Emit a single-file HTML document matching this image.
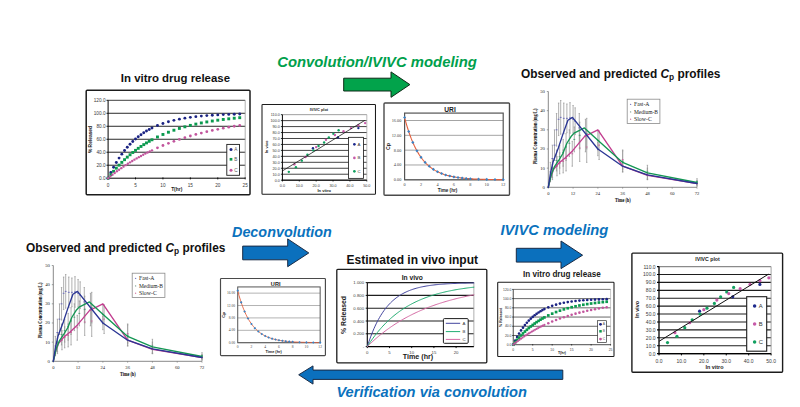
<!DOCTYPE html>
<html><head><meta charset="utf-8"><title>IVIVC workflow</title>
<style>html,body{margin:0;padding:0;background:#fff;}body{width:800px;height:407px;overflow:hidden;}svg{display:block;}</style></head><body>
<svg width="800" height="407" viewBox="0 0 800 407">
<rect width="800" height="407" fill="#fff"/>
<text x="120.85" y="82.25" font-size="11" fill="#111" font-family="'Liberation Sans', sans-serif" font-weight="bold" textLength="109.2" lengthAdjust="spacingAndGlyphs">In vitro drug release</text>
<rect x="86.2" y="90.3" width="163.8" height="104.5" fill="#fff" stroke="#1c1c1c" stroke-width="1.5" rx="1"/>
<line x1="108.1" y1="165.22" x2="245.2" y2="165.22" stroke="#1e1e1e" stroke-width="0.95"/>
<line x1="108.1" y1="152.23" x2="245.2" y2="152.23" stroke="#1e1e1e" stroke-width="0.95"/>
<line x1="108.1" y1="139.25" x2="245.2" y2="139.25" stroke="#1e1e1e" stroke-width="0.95"/>
<line x1="108.1" y1="126.27" x2="245.2" y2="126.27" stroke="#1e1e1e" stroke-width="0.95"/>
<line x1="108.1" y1="113.28" x2="245.2" y2="113.28" stroke="#1e1e1e" stroke-width="0.95"/>
<line x1="108.1" y1="100.3" x2="245.2" y2="100.3" stroke="#2a2a2a" stroke-width="0.9"/>
<line x1="245.2" y1="100.3" x2="245.2" y2="178.2" stroke="#9a9a9a" stroke-width="0.8"/>
<line x1="108.1" y1="100.3" x2="108.1" y2="178.7" stroke="#000" stroke-width="1"/>
<line x1="107.6" y1="178.2" x2="245.2" y2="178.2" stroke="#000" stroke-width="1"/>
<line x1="106.5" y1="178.2" x2="108.1" y2="178.2" stroke="#000" stroke-width="0.9"/>
<text x="105.5" y="179.9" font-size="4.7" fill="#3a3a3a" font-family="'Liberation Sans', sans-serif" text-anchor="end">0.0</text>
<line x1="106.5" y1="165.22" x2="108.1" y2="165.22" stroke="#000" stroke-width="0.9"/>
<text x="105.5" y="166.92" font-size="4.7" fill="#3a3a3a" font-family="'Liberation Sans', sans-serif" text-anchor="end">20.0</text>
<line x1="106.5" y1="152.23" x2="108.1" y2="152.23" stroke="#000" stroke-width="0.9"/>
<text x="105.5" y="153.93" font-size="4.7" fill="#3a3a3a" font-family="'Liberation Sans', sans-serif" text-anchor="end">40.0</text>
<line x1="106.5" y1="139.25" x2="108.1" y2="139.25" stroke="#000" stroke-width="0.9"/>
<text x="105.5" y="140.95" font-size="4.7" fill="#3a3a3a" font-family="'Liberation Sans', sans-serif" text-anchor="end">60.0</text>
<line x1="106.5" y1="126.27" x2="108.1" y2="126.27" stroke="#000" stroke-width="0.9"/>
<text x="105.5" y="127.97" font-size="4.7" fill="#3a3a3a" font-family="'Liberation Sans', sans-serif" text-anchor="end">80.0</text>
<line x1="106.5" y1="113.28" x2="108.1" y2="113.28" stroke="#000" stroke-width="0.9"/>
<text x="105.5" y="114.98" font-size="4.7" fill="#3a3a3a" font-family="'Liberation Sans', sans-serif" text-anchor="end">100.0</text>
<line x1="106.5" y1="100.3" x2="108.1" y2="100.3" stroke="#000" stroke-width="0.9"/>
<text x="105.5" y="102" font-size="4.7" fill="#3a3a3a" font-family="'Liberation Sans', sans-serif" text-anchor="end">120.0</text>
<line x1="108.1" y1="177.4" x2="108.1" y2="179.4" stroke="#000" stroke-width="0.9"/>
<text x="108.1" y="186.6" font-size="4.7" fill="#3a3a3a" font-family="'Liberation Sans', sans-serif" text-anchor="middle">0</text>
<line x1="135.52" y1="177.4" x2="135.52" y2="179.4" stroke="#000" stroke-width="0.9"/>
<text x="135.52" y="186.6" font-size="4.7" fill="#3a3a3a" font-family="'Liberation Sans', sans-serif" text-anchor="middle">5</text>
<line x1="162.94" y1="177.4" x2="162.94" y2="179.4" stroke="#000" stroke-width="0.9"/>
<text x="162.94" y="186.6" font-size="4.7" fill="#3a3a3a" font-family="'Liberation Sans', sans-serif" text-anchor="middle">10</text>
<line x1="190.36" y1="177.4" x2="190.36" y2="179.4" stroke="#000" stroke-width="0.9"/>
<text x="190.36" y="186.6" font-size="4.7" fill="#3a3a3a" font-family="'Liberation Sans', sans-serif" text-anchor="middle">15</text>
<line x1="217.78" y1="177.4" x2="217.78" y2="179.4" stroke="#000" stroke-width="0.9"/>
<text x="217.78" y="186.6" font-size="4.7" fill="#3a3a3a" font-family="'Liberation Sans', sans-serif" text-anchor="middle">20</text>
<line x1="245.2" y1="177.4" x2="245.2" y2="179.4" stroke="#000" stroke-width="0.9"/>
<text x="245.2" y="186.6" font-size="4.7" fill="#3a3a3a" font-family="'Liberation Sans', sans-serif" text-anchor="middle">25</text>
<text x="176.7" y="191.4" font-size="4.9" fill="#1a1a1a" font-family="'Liberation Sans', sans-serif" font-weight="bold" text-anchor="middle">T(hr)</text>
<text x="91.9" y="139.5" font-size="4.9" fill="#1a1a1a" font-family="'Liberation Sans', sans-serif" font-weight="bold" text-anchor="middle" transform="rotate(-90 91.9 139.5)">% Released</text>
<circle cx="108.1" cy="178.2" r="1.45" fill="#1b2383"/>
<circle cx="110.84" cy="172.46" r="1.45" fill="#1b2383"/>
<circle cx="113.58" cy="167.24" r="1.45" fill="#1b2383"/>
<circle cx="116.33" cy="162.47" r="1.45" fill="#1b2383"/>
<circle cx="119.07" cy="158.12" r="1.45" fill="#1b2383"/>
<circle cx="121.81" cy="154.16" r="1.45" fill="#1b2383"/>
<circle cx="124.55" cy="150.55" r="1.45" fill="#1b2383"/>
<circle cx="127.29" cy="147.26" r="1.45" fill="#1b2383"/>
<circle cx="130.04" cy="144.26" r="1.45" fill="#1b2383"/>
<circle cx="132.78" cy="141.52" r="1.45" fill="#1b2383"/>
<circle cx="135.52" cy="139.02" r="1.45" fill="#1b2383"/>
<circle cx="138.26" cy="136.75" r="1.45" fill="#1b2383"/>
<circle cx="141" cy="134.68" r="1.45" fill="#1b2383"/>
<circle cx="143.75" cy="132.79" r="1.45" fill="#1b2383"/>
<circle cx="146.49" cy="131.06" r="1.45" fill="#1b2383"/>
<circle cx="149.23" cy="129.49" r="1.45" fill="#1b2383"/>
<circle cx="151.97" cy="128.06" r="1.45" fill="#1b2383"/>
<circle cx="157.46" cy="125.56" r="1.45" fill="#1b2383"/>
<circle cx="162.94" cy="123.49" r="1.45" fill="#1b2383"/>
<circle cx="168.42" cy="121.77" r="1.45" fill="#1b2383"/>
<circle cx="173.91" cy="120.33" r="1.45" fill="#1b2383"/>
<circle cx="179.39" cy="119.14" r="1.45" fill="#1b2383"/>
<circle cx="184.88" cy="118.15" r="1.45" fill="#1b2383"/>
<circle cx="190.36" cy="117.33" r="1.45" fill="#1b2383"/>
<circle cx="195.84" cy="116.65" r="1.45" fill="#1b2383"/>
<circle cx="201.33" cy="116.08" r="1.45" fill="#1b2383"/>
<circle cx="206.81" cy="115.61" r="1.45" fill="#1b2383"/>
<circle cx="212.3" cy="115.21" r="1.45" fill="#1b2383"/>
<circle cx="217.78" cy="114.89" r="1.45" fill="#1b2383"/>
<circle cx="223.26" cy="114.62" r="1.45" fill="#1b2383"/>
<circle cx="228.75" cy="114.39" r="1.45" fill="#1b2383"/>
<circle cx="234.23" cy="114.2" r="1.45" fill="#1b2383"/>
<circle cx="239.72" cy="114.05" r="1.45" fill="#1b2383"/>
<rect x="106.65" y="176.75" width="2.9" height="2.9" fill="#0a9a4e"/>
<rect x="109.39" y="173.21" width="2.9" height="2.9" fill="#0a9a4e"/>
<rect x="112.13" y="169.87" width="2.9" height="2.9" fill="#0a9a4e"/>
<rect x="114.88" y="166.71" width="2.9" height="2.9" fill="#0a9a4e"/>
<rect x="117.62" y="163.72" width="2.9" height="2.9" fill="#0a9a4e"/>
<rect x="120.36" y="160.9" width="2.9" height="2.9" fill="#0a9a4e"/>
<rect x="123.1" y="158.22" width="2.9" height="2.9" fill="#0a9a4e"/>
<rect x="125.84" y="155.7" width="2.9" height="2.9" fill="#0a9a4e"/>
<rect x="128.59" y="153.31" width="2.9" height="2.9" fill="#0a9a4e"/>
<rect x="131.33" y="151.05" width="2.9" height="2.9" fill="#0a9a4e"/>
<rect x="134.07" y="148.91" width="2.9" height="2.9" fill="#0a9a4e"/>
<rect x="136.81" y="146.89" width="2.9" height="2.9" fill="#0a9a4e"/>
<rect x="139.55" y="144.99" width="2.9" height="2.9" fill="#0a9a4e"/>
<rect x="142.3" y="143.18" width="2.9" height="2.9" fill="#0a9a4e"/>
<rect x="145.04" y="141.47" width="2.9" height="2.9" fill="#0a9a4e"/>
<rect x="147.78" y="139.86" width="2.9" height="2.9" fill="#0a9a4e"/>
<rect x="150.52" y="138.33" width="2.9" height="2.9" fill="#0a9a4e"/>
<rect x="156.01" y="135.52" width="2.9" height="2.9" fill="#0a9a4e"/>
<rect x="161.49" y="133.01" width="2.9" height="2.9" fill="#0a9a4e"/>
<rect x="166.97" y="130.77" width="2.9" height="2.9" fill="#0a9a4e"/>
<rect x="172.46" y="128.76" width="2.9" height="2.9" fill="#0a9a4e"/>
<rect x="177.94" y="126.97" width="2.9" height="2.9" fill="#0a9a4e"/>
<rect x="183.43" y="125.37" width="2.9" height="2.9" fill="#0a9a4e"/>
<rect x="188.91" y="123.93" width="2.9" height="2.9" fill="#0a9a4e"/>
<rect x="194.39" y="122.65" width="2.9" height="2.9" fill="#0a9a4e"/>
<rect x="199.88" y="121.5" width="2.9" height="2.9" fill="#0a9a4e"/>
<rect x="205.36" y="120.48" width="2.9" height="2.9" fill="#0a9a4e"/>
<rect x="210.85" y="119.56" width="2.9" height="2.9" fill="#0a9a4e"/>
<rect x="216.33" y="118.74" width="2.9" height="2.9" fill="#0a9a4e"/>
<rect x="221.81" y="118.01" width="2.9" height="2.9" fill="#0a9a4e"/>
<rect x="227.3" y="117.36" width="2.9" height="2.9" fill="#0a9a4e"/>
<rect x="232.78" y="116.77" width="2.9" height="2.9" fill="#0a9a4e"/>
<rect x="238.27" y="116.25" width="2.9" height="2.9" fill="#0a9a4e"/>
<circle cx="108.1" cy="178.2" r="1.2" fill="#c2559d"/>
<circle cx="110.29" cy="176.41" r="1.2" fill="#c2559d"/>
<circle cx="112.49" cy="174.66" r="1.2" fill="#c2559d"/>
<circle cx="114.68" cy="172.97" r="1.2" fill="#c2559d"/>
<circle cx="116.87" cy="171.32" r="1.2" fill="#c2559d"/>
<circle cx="119.07" cy="169.72" r="1.2" fill="#c2559d"/>
<circle cx="121.26" cy="168.16" r="1.2" fill="#c2559d"/>
<circle cx="123.46" cy="166.65" r="1.2" fill="#c2559d"/>
<circle cx="125.65" cy="165.17" r="1.2" fill="#c2559d"/>
<circle cx="127.84" cy="163.74" r="1.2" fill="#c2559d"/>
<circle cx="130.04" cy="162.35" r="1.2" fill="#c2559d"/>
<circle cx="132.23" cy="160.99" r="1.2" fill="#c2559d"/>
<circle cx="134.42" cy="159.67" r="1.2" fill="#c2559d"/>
<circle cx="136.62" cy="158.39" r="1.2" fill="#c2559d"/>
<circle cx="138.81" cy="157.15" r="1.2" fill="#c2559d"/>
<circle cx="141" cy="155.94" r="1.2" fill="#c2559d"/>
<circle cx="143.2" cy="154.76" r="1.2" fill="#c2559d"/>
<circle cx="145.39" cy="153.61" r="1.2" fill="#c2559d"/>
<circle cx="147.58" cy="152.5" r="1.2" fill="#c2559d"/>
<circle cx="149.78" cy="151.42" r="1.2" fill="#c2559d"/>
<circle cx="151.97" cy="150.36" r="1.2" fill="#c2559d"/>
<circle cx="157.46" cy="147.86" r="1.4" fill="#c2559d"/>
<circle cx="162.94" cy="145.52" r="1.4" fill="#c2559d"/>
<circle cx="168.42" cy="143.34" r="1.4" fill="#c2559d"/>
<circle cx="173.91" cy="141.31" r="1.4" fill="#c2559d"/>
<circle cx="179.39" cy="139.41" r="1.4" fill="#c2559d"/>
<circle cx="184.88" cy="137.65" r="1.4" fill="#c2559d"/>
<circle cx="190.36" cy="136" r="1.4" fill="#c2559d"/>
<circle cx="195.84" cy="134.46" r="1.4" fill="#c2559d"/>
<circle cx="201.33" cy="133.03" r="1.4" fill="#c2559d"/>
<circle cx="206.81" cy="131.7" r="1.4" fill="#c2559d"/>
<circle cx="212.3" cy="130.45" r="1.4" fill="#c2559d"/>
<circle cx="217.78" cy="129.29" r="1.4" fill="#c2559d"/>
<circle cx="223.26" cy="128.21" r="1.4" fill="#c2559d"/>
<circle cx="228.75" cy="127.2" r="1.4" fill="#c2559d"/>
<circle cx="234.23" cy="126.26" r="1.4" fill="#c2559d"/>
<circle cx="239.72" cy="125.38" r="1.4" fill="#c2559d"/>
<rect x="226.8" y="144.4" width="12.7" height="30.9" fill="#fff" stroke="#1c1c1c" stroke-width="0.9"/>
<circle cx="231" cy="149.4" r="1.5" fill="#1b2383"/>
<rect x="229.65" y="157.95" width="2.7" height="2.7" fill="#0a9a4e"/>
<circle cx="231" cy="170.3" r="1.5" fill="#c2559d"/>
<text x="234.3" y="151.1" font-size="4.7" fill="#555" font-family="'Liberation Sans', sans-serif">A</text>
<text x="234.3" y="161" font-size="4.7" fill="#555" font-family="'Liberation Sans', sans-serif">B</text>
<text x="234.3" y="172" font-size="4.7" fill="#555" font-family="'Liberation Sans', sans-serif">C</text>
<text x="277.2" y="67.3" font-size="14.6" fill="#00a04c" font-family="'Liberation Sans', sans-serif" font-weight="bold" font-style="italic" textLength="199.6" lengthAdjust="spacingAndGlyphs">Convolution/IVIVC modeling</text>
<path d="M343.7 78.2L391 78.2L391 71.9L409.9 84.6L391 97.3L391 91L343.7 91Z" fill="#02a34b" stroke="#0c2a16" stroke-width="1" stroke-linejoin="miter"/>
<g transform="translate(262 104.5) scale(0.75301) translate(-631.9 -253.1)">
<rect x="631.9" y="253.1" width="150.7" height="119.1" fill="#fff" stroke="#1c1c1c" stroke-width="1.4" rx="1"/>
<text x="707.5" y="261.4" font-size="5.3" fill="#222" font-family="'Liberation Sans', sans-serif" font-weight="bold" text-anchor="middle" textLength="24.5" lengthAdjust="spacingAndGlyphs">IVIVC plot</text>
<line x1="659" y1="353.6" x2="771.1" y2="353.6" stroke="#1e1e1e" stroke-width="1.1"/>
<line x1="659" y1="345.69" x2="771.1" y2="345.69" stroke="#1e1e1e" stroke-width="1.1"/>
<line x1="659" y1="337.78" x2="771.1" y2="337.78" stroke="#1e1e1e" stroke-width="1.1"/>
<line x1="659" y1="329.87" x2="771.1" y2="329.87" stroke="#1e1e1e" stroke-width="1.1"/>
<line x1="659" y1="321.96" x2="771.1" y2="321.96" stroke="#1e1e1e" stroke-width="1.1"/>
<line x1="659" y1="314.05" x2="771.1" y2="314.05" stroke="#1e1e1e" stroke-width="1.1"/>
<line x1="659" y1="306.15" x2="771.1" y2="306.15" stroke="#1e1e1e" stroke-width="1.1"/>
<line x1="659" y1="298.24" x2="771.1" y2="298.24" stroke="#1e1e1e" stroke-width="1.1"/>
<line x1="659" y1="290.33" x2="771.1" y2="290.33" stroke="#1e1e1e" stroke-width="1.1"/>
<line x1="659" y1="282.42" x2="771.1" y2="282.42" stroke="#1e1e1e" stroke-width="1.1"/>
<line x1="659" y1="274.51" x2="771.1" y2="274.51" stroke="#1e1e1e" stroke-width="1.1"/>
<line x1="659" y1="266.6" x2="771.1" y2="266.6" stroke="#8a8a8a" stroke-width="1.1"/>
<line x1="771.1" y1="266.6" x2="771.1" y2="353.6" stroke="#9a9a9a" stroke-width="0.9"/>
<line x1="659" y1="266.6" x2="659" y2="354.2" stroke="#000" stroke-width="1.3"/>
<line x1="658.4" y1="353.6" x2="771.1" y2="353.6" stroke="#000" stroke-width="1.3"/>
<line x1="657" y1="353.6" x2="659" y2="353.6" stroke="#000" stroke-width="1.1"/>
<text x="655.6" y="355.5" font-size="5" fill="#3a3a3a" font-family="'Liberation Sans', sans-serif" text-anchor="end">0.0</text>
<line x1="657" y1="345.69" x2="659" y2="345.69" stroke="#000" stroke-width="1.1"/>
<text x="655.6" y="347.59" font-size="5" fill="#3a3a3a" font-family="'Liberation Sans', sans-serif" text-anchor="end">10.0</text>
<line x1="657" y1="337.78" x2="659" y2="337.78" stroke="#000" stroke-width="1.1"/>
<text x="655.6" y="339.68" font-size="5" fill="#3a3a3a" font-family="'Liberation Sans', sans-serif" text-anchor="end">20.0</text>
<line x1="657" y1="329.87" x2="659" y2="329.87" stroke="#000" stroke-width="1.1"/>
<text x="655.6" y="331.77" font-size="5" fill="#3a3a3a" font-family="'Liberation Sans', sans-serif" text-anchor="end">30.0</text>
<line x1="657" y1="321.96" x2="659" y2="321.96" stroke="#000" stroke-width="1.1"/>
<text x="655.6" y="323.86" font-size="5" fill="#3a3a3a" font-family="'Liberation Sans', sans-serif" text-anchor="end">40.0</text>
<line x1="657" y1="314.05" x2="659" y2="314.05" stroke="#000" stroke-width="1.1"/>
<text x="655.6" y="315.95" font-size="5" fill="#3a3a3a" font-family="'Liberation Sans', sans-serif" text-anchor="end">50.0</text>
<line x1="657" y1="306.15" x2="659" y2="306.15" stroke="#000" stroke-width="1.1"/>
<text x="655.6" y="308.05" font-size="5" fill="#3a3a3a" font-family="'Liberation Sans', sans-serif" text-anchor="end">60.0</text>
<line x1="657" y1="298.24" x2="659" y2="298.24" stroke="#000" stroke-width="1.1"/>
<text x="655.6" y="300.14" font-size="5" fill="#3a3a3a" font-family="'Liberation Sans', sans-serif" text-anchor="end">70.0</text>
<line x1="657" y1="290.33" x2="659" y2="290.33" stroke="#000" stroke-width="1.1"/>
<text x="655.6" y="292.23" font-size="5" fill="#3a3a3a" font-family="'Liberation Sans', sans-serif" text-anchor="end">80.0</text>
<line x1="657" y1="282.42" x2="659" y2="282.42" stroke="#000" stroke-width="1.1"/>
<text x="655.6" y="284.32" font-size="5" fill="#3a3a3a" font-family="'Liberation Sans', sans-serif" text-anchor="end">90.0</text>
<line x1="657" y1="274.51" x2="659" y2="274.51" stroke="#000" stroke-width="1.1"/>
<text x="655.6" y="276.41" font-size="5" fill="#3a3a3a" font-family="'Liberation Sans', sans-serif" text-anchor="end">100.0</text>
<line x1="657" y1="266.6" x2="659" y2="266.6" stroke="#000" stroke-width="1.1"/>
<text x="655.6" y="268.5" font-size="5" fill="#3a3a3a" font-family="'Liberation Sans', sans-serif" text-anchor="end">110.0</text>
<line x1="659" y1="353.6" x2="659" y2="355.4" stroke="#000" stroke-width="1"/>
<text x="659" y="362.9" font-size="5" fill="#3a3a3a" font-family="'Liberation Sans', sans-serif" text-anchor="middle">0.0</text>
<line x1="681.42" y1="353.6" x2="681.42" y2="355.4" stroke="#000" stroke-width="1"/>
<text x="681.42" y="362.9" font-size="5" fill="#3a3a3a" font-family="'Liberation Sans', sans-serif" text-anchor="middle">10.0</text>
<line x1="703.84" y1="353.6" x2="703.84" y2="355.4" stroke="#000" stroke-width="1"/>
<text x="703.84" y="362.9" font-size="5" fill="#3a3a3a" font-family="'Liberation Sans', sans-serif" text-anchor="middle">20.0</text>
<line x1="726.26" y1="353.6" x2="726.26" y2="355.4" stroke="#000" stroke-width="1"/>
<text x="726.26" y="362.9" font-size="5" fill="#3a3a3a" font-family="'Liberation Sans', sans-serif" text-anchor="middle">30.0</text>
<line x1="748.68" y1="353.6" x2="748.68" y2="355.4" stroke="#000" stroke-width="1"/>
<text x="748.68" y="362.9" font-size="5" fill="#3a3a3a" font-family="'Liberation Sans', sans-serif" text-anchor="middle">40.0</text>
<line x1="771.1" y1="353.6" x2="771.1" y2="355.4" stroke="#000" stroke-width="1"/>
<text x="771.1" y="362.9" font-size="5" fill="#3a3a3a" font-family="'Liberation Sans', sans-serif" text-anchor="middle">50.0</text>
<text x="714.5" y="369.4" font-size="5.4" fill="#1a1a1a" font-family="'Liberation Sans', sans-serif" font-weight="bold" text-anchor="middle">In vitro</text>
<text x="639.3" y="309.4" font-size="5.4" fill="#1a1a1a" font-family="'Liberation Sans', sans-serif" font-weight="bold" text-anchor="middle" transform="rotate(-90 639.3 309.4)">In vivo</text>
<circle cx="667.52" cy="342.53" r="1.6" fill="#12a060"/>
<circle cx="674.92" cy="332.64" r="1.6" fill="#c65aa8"/>
<circle cx="676.94" cy="336.36" r="1.6" fill="#12a060"/>
<circle cx="684.78" cy="327.66" r="1.6" fill="#12a060"/>
<circle cx="689.72" cy="322.75" r="1.6" fill="#c65aa8"/>
<circle cx="692.18" cy="319.75" r="1.6" fill="#12a060"/>
<circle cx="699.58" cy="311.13" r="1.6" fill="#1e2a8c"/>
<circle cx="700.03" cy="314.05" r="1.6" fill="#12a060"/>
<circle cx="703.84" cy="309.7" r="1.6" fill="#c65aa8"/>
<circle cx="706.98" cy="308.2" r="1.6" fill="#12a060"/>
<circle cx="714.38" cy="303.46" r="1.6" fill="#12a060"/>
<circle cx="716.84" cy="300.06" r="1.6" fill="#c65aa8"/>
<circle cx="720.65" cy="296.81" r="1.6" fill="#12a060"/>
<circle cx="726.71" cy="291.91" r="1.6" fill="#12a060"/>
<circle cx="728.73" cy="293.57" r="1.6" fill="#c65aa8"/>
<circle cx="732.76" cy="296.81" r="1.6" fill="#1e2a8c"/>
<circle cx="733.66" cy="287.4" r="1.6" fill="#12a060"/>
<circle cx="740.16" cy="288.67" r="1.6" fill="#c65aa8"/>
<circle cx="750.03" cy="284.47" r="1.6" fill="#c65aa8"/>
<circle cx="759.89" cy="280.68" r="1.6" fill="#c65aa8"/>
<circle cx="759.89" cy="284.47" r="1.6" fill="#1e2a8c"/>
<circle cx="768.86" cy="277.83" r="1.6" fill="#c65aa8"/>
<line x1="659" y1="341.34" x2="768.41" y2="274.19" stroke="#111" stroke-width="1"/>
<rect x="746.7" y="296.7" width="20" height="54.5" fill="#fff" stroke="#1c1c1c" stroke-width="1.1"/>
<circle cx="754.6" cy="306" r="1.75" fill="#1e2a8c"/>
<text x="758.8" y="308.1" font-size="5.8" fill="#333" font-family="'Liberation Sans', sans-serif">A</text>
<circle cx="754.6" cy="324" r="1.75" fill="#c65aa8"/>
<text x="758.8" y="326.1" font-size="5.8" fill="#333" font-family="'Liberation Sans', sans-serif">B</text>
<circle cx="754.6" cy="341.9" r="1.75" fill="#12a060"/>
<text x="758.8" y="344" font-size="5.8" fill="#333" font-family="'Liberation Sans', sans-serif">C</text>
</g>
<rect x="384" y="103" width="125.5" height="92.3" fill="#fff" stroke="#4a4a4a" stroke-width="1.4" rx="1"/>
<text x="450" y="111.9" font-size="7" fill="#1a1a1a" font-family="'Liberation Sans', sans-serif" font-weight="bold" text-anchor="middle" textLength="11.5" lengthAdjust="spacingAndGlyphs">URI</text>
<line x1="404.6" y1="179.8" x2="503.2" y2="179.8" stroke="#9a9a9a" stroke-width="0.9"/>
<text x="401.4" y="181.2" font-size="4.3" fill="#444" font-family="'Liberation Serif', serif" text-anchor="end">0.00</text>
<line x1="404.6" y1="164.98" x2="503.2" y2="164.98" stroke="#9a9a9a" stroke-width="0.9"/>
<text x="401.4" y="166.38" font-size="4.3" fill="#444" font-family="'Liberation Serif', serif" text-anchor="end">4.00</text>
<line x1="404.6" y1="150.15" x2="503.2" y2="150.15" stroke="#9a9a9a" stroke-width="0.9"/>
<text x="401.4" y="151.55" font-size="4.3" fill="#444" font-family="'Liberation Serif', serif" text-anchor="end">8.00</text>
<line x1="404.6" y1="135.32" x2="503.2" y2="135.32" stroke="#9a9a9a" stroke-width="0.9"/>
<text x="401.4" y="136.72" font-size="4.3" fill="#444" font-family="'Liberation Serif', serif" text-anchor="end">12.00</text>
<line x1="404.6" y1="120.5" x2="503.2" y2="120.5" stroke="#9a9a9a" stroke-width="0.9"/>
<text x="401.4" y="121.9" font-size="4.3" fill="#444" font-family="'Liberation Serif', serif" text-anchor="end">16.00</text>
<rect x="404.6" y="113.09" width="98.6" height="66.71" fill="none" stroke="#555" stroke-width="1.2"/>
<text x="404.6" y="186" font-size="4.3" fill="#444" font-family="'Liberation Serif', serif" text-anchor="middle">0</text>
<text x="421.03" y="186" font-size="4.3" fill="#444" font-family="'Liberation Serif', serif" text-anchor="middle">2</text>
<text x="437.47" y="186" font-size="4.3" fill="#444" font-family="'Liberation Serif', serif" text-anchor="middle">4</text>
<text x="453.9" y="186" font-size="4.3" fill="#444" font-family="'Liberation Serif', serif" text-anchor="middle">6</text>
<text x="470.33" y="186" font-size="4.3" fill="#444" font-family="'Liberation Serif', serif" text-anchor="middle">8</text>
<text x="486.77" y="186" font-size="4.3" fill="#444" font-family="'Liberation Serif', serif" text-anchor="middle">10</text>
<text x="503.2" y="186" font-size="4.3" fill="#444" font-family="'Liberation Serif', serif" text-anchor="middle">12</text>
<text x="447.5" y="191.8" font-size="4.6" fill="#222" font-family="'Liberation Sans', sans-serif" font-weight="bold" text-anchor="middle">Time (hr)</text>
<text x="389.6" y="146.5" font-size="5.2" fill="#222" font-family="'Liberation Sans', sans-serif" font-weight="bold" text-anchor="middle" transform="rotate(-90 389.6 146.5)">Cp</text>
<polyline points="404.6,117.53 405.42,120.63 406.24,123.57 407.06,126.37 407.89,129.03 408.71,131.55 409.53,133.95 410.35,136.23 411.17,138.4 412,140.45 412.82,142.41 413.64,144.27 414.46,146.04 415.28,147.71 416.1,149.31 416.93,150.83 417.75,152.27 418.57,153.64 419.39,154.94 420.21,156.17 421.03,157.35 421.86,158.46 422.68,159.52 423.5,160.53 424.32,161.49 425.14,162.4 425.96,163.27 426.79,164.09 427.61,164.87 428.43,165.61 429.25,166.32 430.07,166.99 430.89,167.62 431.72,168.23 432.54,168.81 433.36,169.35 434.18,169.87 435,170.37 435.82,170.83 436.64,171.28 437.47,171.7 438.29,172.11 439.11,172.49 439.93,172.85 440.75,173.2 441.57,173.53 442.4,173.84 443.22,174.13 444.04,174.42 444.86,174.68 445.68,174.94 446.5,175.18 447.33,175.41 448.15,175.63 448.97,175.84 449.79,176.03 450.61,176.22 451.44,176.4 452.26,176.57 453.08,176.73 453.9,176.88 454.72,177.03 455.54,177.16 456.37,177.29 457.19,177.42 458.01,177.54 458.83,177.65 459.65,177.76 460.47,177.86 461.3,177.96 462.12,178.05 462.94,178.13 463.76,178.22 464.58,178.3 465.4,178.37 466.23,178.44 467.05,178.51 467.87,178.57 468.69,178.63 469.51,178.69 470.33,178.75 471.15,178.8 471.98,178.85 472.8,178.9 473.62,178.94 474.44,178.98 475.26,179.02 476.09,179.06 476.91,179.1 477.73,179.13 478.55,179.17 479.37,179.2 480.19,179.23 481.01,179.26 481.84,179.28 482.66,179.31 483.48,179.33 484.3,179.36 485.12,179.38 485.94,179.4 486.77,179.42 487.59,179.44 488.41,179.46 489.23,179.47 490.05,179.49 490.88,179.51 491.7,179.52 492.52,179.53 493.34,179.55 494.16,179.56 494.98,179.57 495.81,179.58 496.63,179.59 497.45,179.6 498.27,179.61 499.09,179.62 499.91,179.63 500.74,179.64 501.56,179.65 502.38,179.66 503.2,179.66" fill="none" stroke="#e4603e" stroke-width="1.1" stroke-linejoin="round" stroke-linecap="round"/>
<path d="M404.6 115.98L406.15 117.53L404.6 119.08L403.05 117.53Z" fill="#3a82c4"/>
<path d="M408.71 130L410.26 131.55L408.71 133.1L407.16 131.55Z" fill="#3a82c4"/>
<path d="M412.82 140.86L414.37 142.41L412.82 143.96L411.27 142.41Z" fill="#3a82c4"/>
<path d="M416.93 149.28L418.48 150.83L416.93 152.38L415.38 150.83Z" fill="#3a82c4"/>
<path d="M421.03 155.8L422.58 157.35L421.03 158.9L419.48 157.35Z" fill="#3a82c4"/>
<path d="M425.14 160.85L426.69 162.4L425.14 163.95L423.59 162.4Z" fill="#3a82c4"/>
<path d="M429.25 164.77L430.8 166.32L429.25 167.87L427.7 166.32Z" fill="#3a82c4"/>
<path d="M433.36 167.8L434.91 169.35L433.36 170.9L431.81 169.35Z" fill="#3a82c4"/>
<path d="M437.47 170.15L439.02 171.7L437.47 173.25L435.92 171.7Z" fill="#3a82c4"/>
<path d="M441.57 171.98L443.12 173.53L441.57 175.08L440.02 173.53Z" fill="#3a82c4"/>
<path d="M445.68 173.39L447.23 174.94L445.68 176.49L444.13 174.94Z" fill="#3a82c4"/>
<path d="M449.79 174.48L451.34 176.03L449.79 177.58L448.24 176.03Z" fill="#3a82c4"/>
<path d="M453.9 175.33L455.45 176.88L453.9 178.43L452.35 176.88Z" fill="#3a82c4"/>
<path d="M458.01 175.99L459.56 177.54L458.01 179.09L456.46 177.54Z" fill="#3a82c4"/>
<path d="M462.12 176.5L463.67 178.05L462.12 179.6L460.57 178.05Z" fill="#3a82c4"/>
<path d="M466.23 176.89L467.78 178.44L466.23 179.99L464.68 178.44Z" fill="#3a82c4"/>
<path d="M470.33 177.2L471.88 178.75L470.33 180.3L468.78 178.75Z" fill="#3a82c4"/>
<path d="M478.55 177.62L480.1 179.17L478.55 180.72L477 179.17Z" fill="#3a82c4"/>
<path d="M486.77 177.87L488.32 179.42L486.77 180.97L485.22 179.42Z" fill="#3a82c4"/>
<path d="M494.98 178.02L496.53 179.57L494.98 181.12L493.43 179.57Z" fill="#3a82c4"/>
<path d="M503.2 178.11L504.75 179.66L503.2 181.21L501.65 179.66Z" fill="#3a82c4"/>
<text x="521.1" y="77.6" font-size="12.1" font-weight="bold" fill="#111" font-family="'Liberation Sans', sans-serif" textLength="199.3" lengthAdjust="spacingAndGlyphs">Observed and predicted <tspan font-style="italic">C</tspan><tspan font-size="8.5" dy="2.2">p</tspan><tspan dy="-2.2"> profiles</tspan></text>
<line x1="548.3" y1="91.5" x2="548.3" y2="187.3" stroke="#7a7a7a" stroke-width="0.9"/>
<line x1="548.3" y1="187.3" x2="697" y2="187.3" stroke="#7a7a7a" stroke-width="0.9"/>
<line x1="546.8" y1="187.3" x2="548.3" y2="187.3" stroke="#777" stroke-width="0.7"/>
<text x="544.9" y="188.8" font-size="4.7" fill="#222" font-family="'Liberation Serif', serif" text-anchor="end">0</text>
<line x1="546.8" y1="168.14" x2="548.3" y2="168.14" stroke="#777" stroke-width="0.7"/>
<text x="544.9" y="169.64" font-size="4.7" fill="#222" font-family="'Liberation Serif', serif" text-anchor="end">10</text>
<line x1="546.8" y1="148.98" x2="548.3" y2="148.98" stroke="#777" stroke-width="0.7"/>
<text x="544.9" y="150.48" font-size="4.7" fill="#222" font-family="'Liberation Serif', serif" text-anchor="end">20</text>
<line x1="546.8" y1="129.82" x2="548.3" y2="129.82" stroke="#777" stroke-width="0.7"/>
<text x="544.9" y="131.32" font-size="4.7" fill="#222" font-family="'Liberation Serif', serif" text-anchor="end">30</text>
<line x1="546.8" y1="110.66" x2="548.3" y2="110.66" stroke="#777" stroke-width="0.7"/>
<text x="544.9" y="112.16" font-size="4.7" fill="#222" font-family="'Liberation Serif', serif" text-anchor="end">40</text>
<line x1="546.8" y1="91.5" x2="548.3" y2="91.5" stroke="#777" stroke-width="0.7"/>
<text x="544.9" y="93" font-size="4.7" fill="#222" font-family="'Liberation Serif', serif" text-anchor="end">50</text>
<line x1="548.3" y1="187.3" x2="548.3" y2="188.6" stroke="#777" stroke-width="0.7"/>
<text x="548.3" y="195.3" font-size="4.6" fill="#222" font-family="'Liberation Serif', serif" text-anchor="middle">0</text>
<line x1="573.08" y1="187.3" x2="573.08" y2="188.6" stroke="#777" stroke-width="0.7"/>
<text x="573.08" y="195.3" font-size="4.6" fill="#222" font-family="'Liberation Serif', serif" text-anchor="middle">12</text>
<line x1="597.87" y1="187.3" x2="597.87" y2="188.6" stroke="#777" stroke-width="0.7"/>
<text x="597.87" y="195.3" font-size="4.6" fill="#222" font-family="'Liberation Serif', serif" text-anchor="middle">24</text>
<line x1="622.65" y1="187.3" x2="622.65" y2="188.6" stroke="#777" stroke-width="0.7"/>
<text x="622.65" y="195.3" font-size="4.6" fill="#222" font-family="'Liberation Serif', serif" text-anchor="middle">36</text>
<line x1="647.43" y1="187.3" x2="647.43" y2="188.6" stroke="#777" stroke-width="0.7"/>
<text x="647.43" y="195.3" font-size="4.6" fill="#222" font-family="'Liberation Serif', serif" text-anchor="middle">48</text>
<line x1="672.22" y1="187.3" x2="672.22" y2="188.6" stroke="#777" stroke-width="0.7"/>
<text x="672.22" y="195.3" font-size="4.6" fill="#222" font-family="'Liberation Serif', serif" text-anchor="middle">60</text>
<line x1="697" y1="187.3" x2="697" y2="188.6" stroke="#777" stroke-width="0.7"/>
<text x="697" y="195.3" font-size="4.6" fill="#222" font-family="'Liberation Serif', serif" text-anchor="middle">72</text>
<text x="622.8" y="201.6" font-size="5.3" fill="#000" font-family="'Liberation Serif', serif" font-weight="bold" text-anchor="middle" textLength="15.6" lengthAdjust="spacingAndGlyphs">Time (h)</text>
<text x="537.1" y="136.5" font-size="5.3" fill="#000" font-family="'Liberation Serif', serif" font-weight="bold" text-anchor="middle" textLength="55.7" lengthAdjust="spacingAndGlyphs" transform="rotate(-90 537.1 136.5)">Plasma Concentration (mg/L)</text>
<line x1="550.37" y1="162.39" x2="550.37" y2="181.55" stroke="#9c9c9c" stroke-width="0.8"/>
<line x1="549.67" y1="162.39" x2="551.07" y2="162.39" stroke="#8a8a8a" stroke-width="0.6"/>
<line x1="549.67" y1="181.55" x2="551.07" y2="181.55" stroke="#8a8a8a" stroke-width="0.6"/>
<line x1="552.43" y1="145.15" x2="552.43" y2="171.97" stroke="#9c9c9c" stroke-width="0.8"/>
<line x1="551.73" y1="145.15" x2="553.13" y2="145.15" stroke="#8a8a8a" stroke-width="0.6"/>
<line x1="551.73" y1="171.97" x2="553.13" y2="171.97" stroke="#8a8a8a" stroke-width="0.6"/>
<line x1="554.5" y1="129.82" x2="554.5" y2="160.48" stroke="#9c9c9c" stroke-width="0.8"/>
<line x1="553.8" y1="129.82" x2="555.2" y2="129.82" stroke="#8a8a8a" stroke-width="0.6"/>
<line x1="553.8" y1="160.48" x2="555.2" y2="160.48" stroke="#8a8a8a" stroke-width="0.6"/>
<line x1="556.56" y1="113.53" x2="556.56" y2="146.11" stroke="#9c9c9c" stroke-width="0.8"/>
<line x1="555.86" y1="113.53" x2="557.26" y2="113.53" stroke="#8a8a8a" stroke-width="0.6"/>
<line x1="555.86" y1="146.11" x2="557.26" y2="146.11" stroke="#8a8a8a" stroke-width="0.6"/>
<line x1="558.63" y1="103" x2="558.63" y2="135.57" stroke="#9c9c9c" stroke-width="0.8"/>
<line x1="557.93" y1="103" x2="559.33" y2="103" stroke="#8a8a8a" stroke-width="0.6"/>
<line x1="557.93" y1="135.57" x2="559.33" y2="135.57" stroke="#8a8a8a" stroke-width="0.6"/>
<line x1="560.69" y1="100.51" x2="560.69" y2="134.23" stroke="#9c9c9c" stroke-width="0.8"/>
<line x1="559.99" y1="100.51" x2="561.39" y2="100.51" stroke="#8a8a8a" stroke-width="0.6"/>
<line x1="559.99" y1="134.23" x2="561.39" y2="134.23" stroke="#8a8a8a" stroke-width="0.6"/>
<line x1="563.79" y1="103" x2="563.79" y2="133.65" stroke="#9c9c9c" stroke-width="0.8"/>
<line x1="563.09" y1="103" x2="564.49" y2="103" stroke="#8a8a8a" stroke-width="0.6"/>
<line x1="563.09" y1="133.65" x2="564.49" y2="133.65" stroke="#8a8a8a" stroke-width="0.6"/>
<line x1="566.89" y1="103.95" x2="566.89" y2="132.69" stroke="#9c9c9c" stroke-width="0.8"/>
<line x1="566.19" y1="103.95" x2="567.59" y2="103.95" stroke="#8a8a8a" stroke-width="0.6"/>
<line x1="566.19" y1="132.69" x2="567.59" y2="132.69" stroke="#8a8a8a" stroke-width="0.6"/>
<line x1="569.99" y1="102.61" x2="569.99" y2="133.27" stroke="#9c9c9c" stroke-width="0.8"/>
<line x1="569.29" y1="102.61" x2="570.69" y2="102.61" stroke="#8a8a8a" stroke-width="0.6"/>
<line x1="569.29" y1="133.27" x2="570.69" y2="133.27" stroke="#8a8a8a" stroke-width="0.6"/>
<line x1="573.08" y1="105.49" x2="573.08" y2="133.08" stroke="#9c9c9c" stroke-width="0.8"/>
<line x1="572.38" y1="105.49" x2="573.78" y2="105.49" stroke="#8a8a8a" stroke-width="0.6"/>
<line x1="572.38" y1="133.08" x2="573.78" y2="133.08" stroke="#8a8a8a" stroke-width="0.6"/>
<line x1="575.15" y1="107.79" x2="575.15" y2="134.61" stroke="#9c9c9c" stroke-width="0.8"/>
<line x1="574.45" y1="107.79" x2="575.85" y2="107.79" stroke="#8a8a8a" stroke-width="0.6"/>
<line x1="574.45" y1="134.61" x2="575.85" y2="134.61" stroke="#8a8a8a" stroke-width="0.6"/>
<line x1="579.28" y1="113.53" x2="579.28" y2="142.27" stroke="#9c9c9c" stroke-width="0.8"/>
<line x1="578.58" y1="113.53" x2="579.98" y2="113.53" stroke="#8a8a8a" stroke-width="0.6"/>
<line x1="578.58" y1="142.27" x2="579.98" y2="142.27" stroke="#8a8a8a" stroke-width="0.6"/>
<line x1="585.47" y1="119.28" x2="585.47" y2="151.85" stroke="#9c9c9c" stroke-width="0.8"/>
<line x1="584.77" y1="119.28" x2="586.17" y2="119.28" stroke="#8a8a8a" stroke-width="0.6"/>
<line x1="584.77" y1="151.85" x2="586.17" y2="151.85" stroke="#8a8a8a" stroke-width="0.6"/>
<line x1="597.87" y1="142.27" x2="597.87" y2="155.69" stroke="#9c9c9c" stroke-width="0.8"/>
<line x1="597.17" y1="142.27" x2="598.57" y2="142.27" stroke="#8a8a8a" stroke-width="0.6"/>
<line x1="597.17" y1="155.69" x2="598.57" y2="155.69" stroke="#8a8a8a" stroke-width="0.6"/>
<line x1="622.65" y1="160.48" x2="622.65" y2="171.97" stroke="#9c9c9c" stroke-width="0.8"/>
<line x1="621.95" y1="160.48" x2="623.35" y2="160.48" stroke="#8a8a8a" stroke-width="0.6"/>
<line x1="621.95" y1="171.97" x2="623.35" y2="171.97" stroke="#8a8a8a" stroke-width="0.6"/>
<line x1="647.43" y1="170.06" x2="647.43" y2="179.64" stroke="#9c9c9c" stroke-width="0.8"/>
<line x1="646.73" y1="170.06" x2="648.13" y2="170.06" stroke="#8a8a8a" stroke-width="0.6"/>
<line x1="646.73" y1="179.64" x2="648.13" y2="179.64" stroke="#8a8a8a" stroke-width="0.6"/>
<line x1="697" y1="181.17" x2="697" y2="185.77" stroke="#9c9c9c" stroke-width="0.8"/>
<line x1="696.3" y1="181.17" x2="697.7" y2="181.17" stroke="#8a8a8a" stroke-width="0.6"/>
<line x1="696.3" y1="185.77" x2="697.7" y2="185.77" stroke="#8a8a8a" stroke-width="0.6"/>
<line x1="552.43" y1="158.56" x2="552.43" y2="177.72" stroke="#9c9c9c" stroke-width="0.8"/>
<line x1="551.73" y1="158.56" x2="553.13" y2="158.56" stroke="#8a8a8a" stroke-width="0.6"/>
<line x1="551.73" y1="177.72" x2="553.13" y2="177.72" stroke="#8a8a8a" stroke-width="0.6"/>
<line x1="556.56" y1="149.94" x2="556.56" y2="171.01" stroke="#9c9c9c" stroke-width="0.8"/>
<line x1="555.86" y1="149.94" x2="557.26" y2="149.94" stroke="#8a8a8a" stroke-width="0.6"/>
<line x1="555.86" y1="171.01" x2="557.26" y2="171.01" stroke="#8a8a8a" stroke-width="0.6"/>
<line x1="559.66" y1="145.15" x2="559.66" y2="168.14" stroke="#9c9c9c" stroke-width="0.8"/>
<line x1="558.96" y1="145.15" x2="560.36" y2="145.15" stroke="#8a8a8a" stroke-width="0.6"/>
<line x1="558.96" y1="168.14" x2="560.36" y2="168.14" stroke="#8a8a8a" stroke-width="0.6"/>
<line x1="563.17" y1="139.4" x2="563.17" y2="166.22" stroke="#9c9c9c" stroke-width="0.8"/>
<line x1="562.47" y1="139.4" x2="563.87" y2="139.4" stroke="#8a8a8a" stroke-width="0.6"/>
<line x1="562.47" y1="166.22" x2="563.87" y2="166.22" stroke="#8a8a8a" stroke-width="0.6"/>
<line x1="566.06" y1="133.65" x2="566.06" y2="160.48" stroke="#9c9c9c" stroke-width="0.8"/>
<line x1="565.36" y1="133.65" x2="566.76" y2="133.65" stroke="#8a8a8a" stroke-width="0.6"/>
<line x1="565.36" y1="160.48" x2="566.76" y2="160.48" stroke="#8a8a8a" stroke-width="0.6"/>
<line x1="569.37" y1="129.82" x2="569.37" y2="156.64" stroke="#9c9c9c" stroke-width="0.8"/>
<line x1="568.67" y1="129.82" x2="570.07" y2="129.82" stroke="#8a8a8a" stroke-width="0.6"/>
<line x1="568.67" y1="156.64" x2="570.07" y2="156.64" stroke="#8a8a8a" stroke-width="0.6"/>
<line x1="574.32" y1="126.95" x2="574.32" y2="151.85" stroke="#9c9c9c" stroke-width="0.8"/>
<line x1="573.62" y1="126.95" x2="575.02" y2="126.95" stroke="#8a8a8a" stroke-width="0.6"/>
<line x1="573.62" y1="151.85" x2="575.02" y2="151.85" stroke="#8a8a8a" stroke-width="0.6"/>
<line x1="579.69" y1="122.16" x2="579.69" y2="148.98" stroke="#9c9c9c" stroke-width="0.8"/>
<line x1="578.99" y1="122.16" x2="580.39" y2="122.16" stroke="#8a8a8a" stroke-width="0.6"/>
<line x1="578.99" y1="148.98" x2="580.39" y2="148.98" stroke="#8a8a8a" stroke-width="0.6"/>
<line x1="586.71" y1="118.32" x2="586.71" y2="148.98" stroke="#9c9c9c" stroke-width="0.8"/>
<line x1="586.01" y1="118.32" x2="587.41" y2="118.32" stroke="#8a8a8a" stroke-width="0.6"/>
<line x1="586.01" y1="148.98" x2="587.41" y2="148.98" stroke="#8a8a8a" stroke-width="0.6"/>
<line x1="597.87" y1="130.78" x2="597.87" y2="149.94" stroke="#9c9c9c" stroke-width="0.8"/>
<line x1="597.17" y1="130.78" x2="598.57" y2="130.78" stroke="#8a8a8a" stroke-width="0.6"/>
<line x1="597.17" y1="149.94" x2="598.57" y2="149.94" stroke="#8a8a8a" stroke-width="0.6"/>
<line x1="622.65" y1="150.9" x2="622.65" y2="171.97" stroke="#9c9c9c" stroke-width="0.8"/>
<line x1="621.95" y1="150.9" x2="623.35" y2="150.9" stroke="#8a8a8a" stroke-width="0.6"/>
<line x1="621.95" y1="171.97" x2="623.35" y2="171.97" stroke="#8a8a8a" stroke-width="0.6"/>
<line x1="647.43" y1="165.27" x2="647.43" y2="178.68" stroke="#9c9c9c" stroke-width="0.8"/>
<line x1="646.73" y1="165.27" x2="648.13" y2="165.27" stroke="#8a8a8a" stroke-width="0.6"/>
<line x1="646.73" y1="178.68" x2="648.13" y2="178.68" stroke="#8a8a8a" stroke-width="0.6"/>
<line x1="697" y1="178.68" x2="697" y2="184.43" stroke="#9c9c9c" stroke-width="0.8"/>
<line x1="696.3" y1="178.68" x2="697.7" y2="178.68" stroke="#8a8a8a" stroke-width="0.6"/>
<line x1="696.3" y1="184.43" x2="697.7" y2="184.43" stroke="#8a8a8a" stroke-width="0.6"/>
<line x1="552.43" y1="164.31" x2="552.43" y2="179.64" stroke="#9c9c9c" stroke-width="0.8"/>
<line x1="551.73" y1="164.31" x2="553.13" y2="164.31" stroke="#8a8a8a" stroke-width="0.6"/>
<line x1="551.73" y1="179.64" x2="553.13" y2="179.64" stroke="#8a8a8a" stroke-width="0.6"/>
<line x1="556.97" y1="156.64" x2="556.97" y2="175.8" stroke="#9c9c9c" stroke-width="0.8"/>
<line x1="556.27" y1="156.64" x2="557.67" y2="156.64" stroke="#8a8a8a" stroke-width="0.6"/>
<line x1="556.27" y1="175.8" x2="557.67" y2="175.8" stroke="#8a8a8a" stroke-width="0.6"/>
<line x1="559.66" y1="152.81" x2="559.66" y2="173.89" stroke="#9c9c9c" stroke-width="0.8"/>
<line x1="558.96" y1="152.81" x2="560.36" y2="152.81" stroke="#8a8a8a" stroke-width="0.6"/>
<line x1="558.96" y1="173.89" x2="560.36" y2="173.89" stroke="#8a8a8a" stroke-width="0.6"/>
<line x1="563.17" y1="149.94" x2="563.17" y2="172.93" stroke="#9c9c9c" stroke-width="0.8"/>
<line x1="562.47" y1="149.94" x2="563.87" y2="149.94" stroke="#8a8a8a" stroke-width="0.6"/>
<line x1="562.47" y1="172.93" x2="563.87" y2="172.93" stroke="#8a8a8a" stroke-width="0.6"/>
<line x1="566.06" y1="146.11" x2="566.06" y2="171.01" stroke="#9c9c9c" stroke-width="0.8"/>
<line x1="565.36" y1="146.11" x2="566.76" y2="146.11" stroke="#8a8a8a" stroke-width="0.6"/>
<line x1="565.36" y1="171.01" x2="566.76" y2="171.01" stroke="#8a8a8a" stroke-width="0.6"/>
<line x1="572.26" y1="141.32" x2="572.26" y2="166.22" stroke="#9c9c9c" stroke-width="0.8"/>
<line x1="571.56" y1="141.32" x2="572.96" y2="141.32" stroke="#8a8a8a" stroke-width="0.6"/>
<line x1="571.56" y1="166.22" x2="572.96" y2="166.22" stroke="#8a8a8a" stroke-width="0.6"/>
<line x1="579.69" y1="134.61" x2="579.69" y2="161.43" stroke="#9c9c9c" stroke-width="0.8"/>
<line x1="578.99" y1="134.61" x2="580.39" y2="134.61" stroke="#8a8a8a" stroke-width="0.6"/>
<line x1="578.99" y1="161.43" x2="580.39" y2="161.43" stroke="#8a8a8a" stroke-width="0.6"/>
<line x1="586.71" y1="131.74" x2="586.71" y2="162.39" stroke="#9c9c9c" stroke-width="0.8"/>
<line x1="586.01" y1="131.74" x2="587.41" y2="131.74" stroke="#8a8a8a" stroke-width="0.6"/>
<line x1="586.01" y1="162.39" x2="587.41" y2="162.39" stroke="#8a8a8a" stroke-width="0.6"/>
<line x1="599.11" y1="130.78" x2="599.11" y2="159.52" stroke="#9c9c9c" stroke-width="0.8"/>
<line x1="598.41" y1="130.78" x2="599.81" y2="130.78" stroke="#8a8a8a" stroke-width="0.6"/>
<line x1="598.41" y1="159.52" x2="599.81" y2="159.52" stroke="#8a8a8a" stroke-width="0.6"/>
<line x1="622.65" y1="149.94" x2="622.65" y2="169.1" stroke="#9c9c9c" stroke-width="0.8"/>
<line x1="621.95" y1="149.94" x2="623.35" y2="149.94" stroke="#8a8a8a" stroke-width="0.6"/>
<line x1="621.95" y1="169.1" x2="623.35" y2="169.1" stroke="#8a8a8a" stroke-width="0.6"/>
<line x1="647.43" y1="168.14" x2="647.43" y2="179.64" stroke="#9c9c9c" stroke-width="0.8"/>
<line x1="646.73" y1="168.14" x2="648.13" y2="168.14" stroke="#8a8a8a" stroke-width="0.6"/>
<line x1="646.73" y1="179.64" x2="648.13" y2="179.64" stroke="#8a8a8a" stroke-width="0.6"/>
<line x1="697" y1="180.59" x2="697" y2="186.34" stroke="#9c9c9c" stroke-width="0.8"/>
<line x1="696.3" y1="180.59" x2="697.7" y2="180.59" stroke="#8a8a8a" stroke-width="0.6"/>
<line x1="696.3" y1="186.34" x2="697.7" y2="186.34" stroke="#8a8a8a" stroke-width="0.6"/>
<line x1="549.47" y1="171.97" x2="551.27" y2="171.97" stroke="#6060b8" stroke-width="0.9"/>
<line x1="551.53" y1="158.56" x2="553.33" y2="158.56" stroke="#6060b8" stroke-width="0.9"/>
<line x1="553.6" y1="145.15" x2="555.4" y2="145.15" stroke="#6060b8" stroke-width="0.9"/>
<line x1="555.66" y1="129.82" x2="557.46" y2="129.82" stroke="#6060b8" stroke-width="0.9"/>
<line x1="557.73" y1="119.28" x2="559.53" y2="119.28" stroke="#6060b8" stroke-width="0.9"/>
<line x1="559.79" y1="117.37" x2="561.59" y2="117.37" stroke="#6060b8" stroke-width="0.9"/>
<line x1="562.89" y1="118.32" x2="564.69" y2="118.32" stroke="#6060b8" stroke-width="0.9"/>
<line x1="565.99" y1="118.32" x2="567.79" y2="118.32" stroke="#6060b8" stroke-width="0.9"/>
<line x1="569.09" y1="117.94" x2="570.89" y2="117.94" stroke="#6060b8" stroke-width="0.9"/>
<line x1="572.18" y1="119.28" x2="573.98" y2="119.28" stroke="#6060b8" stroke-width="0.9"/>
<line x1="574.25" y1="121.2" x2="576.05" y2="121.2" stroke="#6060b8" stroke-width="0.9"/>
<line x1="578.38" y1="127.9" x2="580.18" y2="127.9" stroke="#6060b8" stroke-width="0.9"/>
<line x1="584.57" y1="135.57" x2="586.37" y2="135.57" stroke="#6060b8" stroke-width="0.9"/>
<line x1="596.97" y1="148.98" x2="598.77" y2="148.98" stroke="#6060b8" stroke-width="0.9"/>
<line x1="621.75" y1="166.22" x2="623.55" y2="166.22" stroke="#6060b8" stroke-width="0.9"/>
<line x1="646.53" y1="174.85" x2="648.33" y2="174.85" stroke="#6060b8" stroke-width="0.9"/>
<line x1="696.1" y1="183.47" x2="697.9" y2="183.47" stroke="#6060b8" stroke-width="0.9"/>
<line x1="551.53" y1="168.14" x2="553.33" y2="168.14" stroke="#40a070" stroke-width="0.9"/>
<line x1="555.66" y1="160.48" x2="557.46" y2="160.48" stroke="#40a070" stroke-width="0.9"/>
<line x1="558.76" y1="156.64" x2="560.56" y2="156.64" stroke="#40a070" stroke-width="0.9"/>
<line x1="562.27" y1="152.81" x2="564.07" y2="152.81" stroke="#40a070" stroke-width="0.9"/>
<line x1="565.16" y1="147.06" x2="566.96" y2="147.06" stroke="#40a070" stroke-width="0.9"/>
<line x1="568.47" y1="143.23" x2="570.27" y2="143.23" stroke="#40a070" stroke-width="0.9"/>
<line x1="573.42" y1="139.4" x2="575.22" y2="139.4" stroke="#40a070" stroke-width="0.9"/>
<line x1="578.79" y1="135.57" x2="580.59" y2="135.57" stroke="#40a070" stroke-width="0.9"/>
<line x1="585.81" y1="133.65" x2="587.61" y2="133.65" stroke="#40a070" stroke-width="0.9"/>
<line x1="596.97" y1="140.36" x2="598.77" y2="140.36" stroke="#40a070" stroke-width="0.9"/>
<line x1="621.75" y1="161.43" x2="623.55" y2="161.43" stroke="#40a070" stroke-width="0.9"/>
<line x1="646.53" y1="171.97" x2="648.33" y2="171.97" stroke="#40a070" stroke-width="0.9"/>
<line x1="696.1" y1="181.55" x2="697.9" y2="181.55" stroke="#40a070" stroke-width="0.9"/>
<line x1="551.53" y1="171.97" x2="553.33" y2="171.97" stroke="#c8609a" stroke-width="0.9"/>
<line x1="556.07" y1="166.22" x2="557.87" y2="166.22" stroke="#c8609a" stroke-width="0.9"/>
<line x1="558.76" y1="163.35" x2="560.56" y2="163.35" stroke="#c8609a" stroke-width="0.9"/>
<line x1="562.27" y1="161.43" x2="564.07" y2="161.43" stroke="#c8609a" stroke-width="0.9"/>
<line x1="565.16" y1="158.56" x2="566.96" y2="158.56" stroke="#c8609a" stroke-width="0.9"/>
<line x1="571.36" y1="153.77" x2="573.16" y2="153.77" stroke="#c8609a" stroke-width="0.9"/>
<line x1="578.79" y1="148.02" x2="580.59" y2="148.02" stroke="#c8609a" stroke-width="0.9"/>
<line x1="585.81" y1="147.06" x2="587.61" y2="147.06" stroke="#c8609a" stroke-width="0.9"/>
<line x1="598.21" y1="145.15" x2="600.01" y2="145.15" stroke="#c8609a" stroke-width="0.9"/>
<line x1="621.75" y1="159.52" x2="623.55" y2="159.52" stroke="#c8609a" stroke-width="0.9"/>
<line x1="646.53" y1="173.89" x2="648.33" y2="173.89" stroke="#c8609a" stroke-width="0.9"/>
<line x1="696.1" y1="183.47" x2="697.9" y2="183.47" stroke="#c8609a" stroke-width="0.9"/>
<polyline points="548.3,187.3 550.78,176.76 553.46,169.48 558.63,163.35 564.82,158.18 572.46,150.9 584.65,136.33 597.87,129.82 622.65,166.22 647.43,175.42 697,183.47" fill="none" stroke="#c23d8f" stroke-width="1.35" stroke-linejoin="round" stroke-linecap="round"/>
<polyline points="548.3,187.3 551.4,174.27 554.5,166.61 558.63,160.48 562.76,153.77 566.89,143.23 571.02,136.53 574.12,133.08 584.44,127.9 597.87,140.36 622.65,162.39 647.43,172.93 697,182.51" fill="none" stroke="#139653" stroke-width="1.35" stroke-linejoin="round" stroke-linecap="round"/>
<polyline points="548.3,187.3 550.37,173.89 553.05,162.01 558.42,147.64 562.76,134.61 567.92,120.24 572.46,117.37 597.87,148.98 622.65,166.22 647.43,174.85 697,183.47" fill="none" stroke="#2a3594" stroke-width="1.35" stroke-linejoin="round" stroke-linecap="round"/>
<rect x="627.2" y="99.2" width="32.7" height="24.2" fill="#fff" stroke="#8a8a8a" stroke-width="0.8"/>
<circle cx="630.6" cy="104.4" r="0.7" fill="#8080c8"/>
<text x="634" y="106.4" font-size="6.2" fill="#1a1a1a" font-family="'Liberation Serif', serif" textLength="15.4" lengthAdjust="spacingAndGlyphs">Fast-A</text>
<circle cx="630.6" cy="111.9" r="0.7" fill="#80a090"/>
<text x="634" y="113.9" font-size="6.2" fill="#1a1a1a" font-family="'Liberation Serif', serif" textLength="24" lengthAdjust="spacingAndGlyphs">Medium-B</text>
<circle cx="630.6" cy="119.3" r="0.7" fill="#d880a8"/>
<text x="634" y="121.3" font-size="6.2" fill="#1a1a1a" font-family="'Liberation Serif', serif" textLength="17.8" lengthAdjust="spacingAndGlyphs">Slow-C</text>
<text x="26" y="252" font-size="12.1" font-weight="bold" fill="#111" font-family="'Liberation Sans', sans-serif" textLength="199.4" lengthAdjust="spacingAndGlyphs">Observed and predicted <tspan font-style="italic">C</tspan><tspan font-size="8.5" dy="2.2">p</tspan><tspan dy="-2.2"> profiles</tspan></text>
<g transform="translate(-495 174)">
<line x1="548.3" y1="91.5" x2="548.3" y2="187.3" stroke="#7a7a7a" stroke-width="0.9"/>
<line x1="548.3" y1="187.3" x2="697" y2="187.3" stroke="#7a7a7a" stroke-width="0.9"/>
<line x1="546.8" y1="187.3" x2="548.3" y2="187.3" stroke="#777" stroke-width="0.7"/>
<text x="544.9" y="188.8" font-size="4.7" fill="#222" font-family="'Liberation Serif', serif" text-anchor="end">0</text>
<line x1="546.8" y1="168.14" x2="548.3" y2="168.14" stroke="#777" stroke-width="0.7"/>
<text x="544.9" y="169.64" font-size="4.7" fill="#222" font-family="'Liberation Serif', serif" text-anchor="end">10</text>
<line x1="546.8" y1="148.98" x2="548.3" y2="148.98" stroke="#777" stroke-width="0.7"/>
<text x="544.9" y="150.48" font-size="4.7" fill="#222" font-family="'Liberation Serif', serif" text-anchor="end">20</text>
<line x1="546.8" y1="129.82" x2="548.3" y2="129.82" stroke="#777" stroke-width="0.7"/>
<text x="544.9" y="131.32" font-size="4.7" fill="#222" font-family="'Liberation Serif', serif" text-anchor="end">30</text>
<line x1="546.8" y1="110.66" x2="548.3" y2="110.66" stroke="#777" stroke-width="0.7"/>
<text x="544.9" y="112.16" font-size="4.7" fill="#222" font-family="'Liberation Serif', serif" text-anchor="end">40</text>
<line x1="546.8" y1="91.5" x2="548.3" y2="91.5" stroke="#777" stroke-width="0.7"/>
<text x="544.9" y="93" font-size="4.7" fill="#222" font-family="'Liberation Serif', serif" text-anchor="end">50</text>
<line x1="548.3" y1="187.3" x2="548.3" y2="188.6" stroke="#777" stroke-width="0.7"/>
<text x="548.3" y="195.3" font-size="4.6" fill="#222" font-family="'Liberation Serif', serif" text-anchor="middle">0</text>
<line x1="573.08" y1="187.3" x2="573.08" y2="188.6" stroke="#777" stroke-width="0.7"/>
<text x="573.08" y="195.3" font-size="4.6" fill="#222" font-family="'Liberation Serif', serif" text-anchor="middle">12</text>
<line x1="597.87" y1="187.3" x2="597.87" y2="188.6" stroke="#777" stroke-width="0.7"/>
<text x="597.87" y="195.3" font-size="4.6" fill="#222" font-family="'Liberation Serif', serif" text-anchor="middle">24</text>
<line x1="622.65" y1="187.3" x2="622.65" y2="188.6" stroke="#777" stroke-width="0.7"/>
<text x="622.65" y="195.3" font-size="4.6" fill="#222" font-family="'Liberation Serif', serif" text-anchor="middle">36</text>
<line x1="647.43" y1="187.3" x2="647.43" y2="188.6" stroke="#777" stroke-width="0.7"/>
<text x="647.43" y="195.3" font-size="4.6" fill="#222" font-family="'Liberation Serif', serif" text-anchor="middle">48</text>
<line x1="672.22" y1="187.3" x2="672.22" y2="188.6" stroke="#777" stroke-width="0.7"/>
<text x="672.22" y="195.3" font-size="4.6" fill="#222" font-family="'Liberation Serif', serif" text-anchor="middle">60</text>
<line x1="697" y1="187.3" x2="697" y2="188.6" stroke="#777" stroke-width="0.7"/>
<text x="697" y="195.3" font-size="4.6" fill="#222" font-family="'Liberation Serif', serif" text-anchor="middle">72</text>
<text x="622.8" y="201.6" font-size="5.3" fill="#000" font-family="'Liberation Serif', serif" font-weight="bold" text-anchor="middle" textLength="15.6" lengthAdjust="spacingAndGlyphs">Time (h)</text>
<text x="537.1" y="136.5" font-size="5.3" fill="#000" font-family="'Liberation Serif', serif" font-weight="bold" text-anchor="middle" textLength="55.7" lengthAdjust="spacingAndGlyphs" transform="rotate(-90 537.1 136.5)">Plasma Concentration (mg/L)</text>
<line x1="550.37" y1="162.39" x2="550.37" y2="181.55" stroke="#9c9c9c" stroke-width="0.8"/>
<line x1="549.67" y1="162.39" x2="551.07" y2="162.39" stroke="#8a8a8a" stroke-width="0.6"/>
<line x1="549.67" y1="181.55" x2="551.07" y2="181.55" stroke="#8a8a8a" stroke-width="0.6"/>
<line x1="552.43" y1="145.15" x2="552.43" y2="171.97" stroke="#9c9c9c" stroke-width="0.8"/>
<line x1="551.73" y1="145.15" x2="553.13" y2="145.15" stroke="#8a8a8a" stroke-width="0.6"/>
<line x1="551.73" y1="171.97" x2="553.13" y2="171.97" stroke="#8a8a8a" stroke-width="0.6"/>
<line x1="554.5" y1="129.82" x2="554.5" y2="160.48" stroke="#9c9c9c" stroke-width="0.8"/>
<line x1="553.8" y1="129.82" x2="555.2" y2="129.82" stroke="#8a8a8a" stroke-width="0.6"/>
<line x1="553.8" y1="160.48" x2="555.2" y2="160.48" stroke="#8a8a8a" stroke-width="0.6"/>
<line x1="556.56" y1="113.53" x2="556.56" y2="146.11" stroke="#9c9c9c" stroke-width="0.8"/>
<line x1="555.86" y1="113.53" x2="557.26" y2="113.53" stroke="#8a8a8a" stroke-width="0.6"/>
<line x1="555.86" y1="146.11" x2="557.26" y2="146.11" stroke="#8a8a8a" stroke-width="0.6"/>
<line x1="558.63" y1="103" x2="558.63" y2="135.57" stroke="#9c9c9c" stroke-width="0.8"/>
<line x1="557.93" y1="103" x2="559.33" y2="103" stroke="#8a8a8a" stroke-width="0.6"/>
<line x1="557.93" y1="135.57" x2="559.33" y2="135.57" stroke="#8a8a8a" stroke-width="0.6"/>
<line x1="560.69" y1="100.51" x2="560.69" y2="134.23" stroke="#9c9c9c" stroke-width="0.8"/>
<line x1="559.99" y1="100.51" x2="561.39" y2="100.51" stroke="#8a8a8a" stroke-width="0.6"/>
<line x1="559.99" y1="134.23" x2="561.39" y2="134.23" stroke="#8a8a8a" stroke-width="0.6"/>
<line x1="563.79" y1="103" x2="563.79" y2="133.65" stroke="#9c9c9c" stroke-width="0.8"/>
<line x1="563.09" y1="103" x2="564.49" y2="103" stroke="#8a8a8a" stroke-width="0.6"/>
<line x1="563.09" y1="133.65" x2="564.49" y2="133.65" stroke="#8a8a8a" stroke-width="0.6"/>
<line x1="566.89" y1="103.95" x2="566.89" y2="132.69" stroke="#9c9c9c" stroke-width="0.8"/>
<line x1="566.19" y1="103.95" x2="567.59" y2="103.95" stroke="#8a8a8a" stroke-width="0.6"/>
<line x1="566.19" y1="132.69" x2="567.59" y2="132.69" stroke="#8a8a8a" stroke-width="0.6"/>
<line x1="569.99" y1="102.61" x2="569.99" y2="133.27" stroke="#9c9c9c" stroke-width="0.8"/>
<line x1="569.29" y1="102.61" x2="570.69" y2="102.61" stroke="#8a8a8a" stroke-width="0.6"/>
<line x1="569.29" y1="133.27" x2="570.69" y2="133.27" stroke="#8a8a8a" stroke-width="0.6"/>
<line x1="573.08" y1="105.49" x2="573.08" y2="133.08" stroke="#9c9c9c" stroke-width="0.8"/>
<line x1="572.38" y1="105.49" x2="573.78" y2="105.49" stroke="#8a8a8a" stroke-width="0.6"/>
<line x1="572.38" y1="133.08" x2="573.78" y2="133.08" stroke="#8a8a8a" stroke-width="0.6"/>
<line x1="575.15" y1="107.79" x2="575.15" y2="134.61" stroke="#9c9c9c" stroke-width="0.8"/>
<line x1="574.45" y1="107.79" x2="575.85" y2="107.79" stroke="#8a8a8a" stroke-width="0.6"/>
<line x1="574.45" y1="134.61" x2="575.85" y2="134.61" stroke="#8a8a8a" stroke-width="0.6"/>
<line x1="579.28" y1="113.53" x2="579.28" y2="142.27" stroke="#9c9c9c" stroke-width="0.8"/>
<line x1="578.58" y1="113.53" x2="579.98" y2="113.53" stroke="#8a8a8a" stroke-width="0.6"/>
<line x1="578.58" y1="142.27" x2="579.98" y2="142.27" stroke="#8a8a8a" stroke-width="0.6"/>
<line x1="585.47" y1="119.28" x2="585.47" y2="151.85" stroke="#9c9c9c" stroke-width="0.8"/>
<line x1="584.77" y1="119.28" x2="586.17" y2="119.28" stroke="#8a8a8a" stroke-width="0.6"/>
<line x1="584.77" y1="151.85" x2="586.17" y2="151.85" stroke="#8a8a8a" stroke-width="0.6"/>
<line x1="597.87" y1="142.27" x2="597.87" y2="155.69" stroke="#9c9c9c" stroke-width="0.8"/>
<line x1="597.17" y1="142.27" x2="598.57" y2="142.27" stroke="#8a8a8a" stroke-width="0.6"/>
<line x1="597.17" y1="155.69" x2="598.57" y2="155.69" stroke="#8a8a8a" stroke-width="0.6"/>
<line x1="622.65" y1="160.48" x2="622.65" y2="171.97" stroke="#9c9c9c" stroke-width="0.8"/>
<line x1="621.95" y1="160.48" x2="623.35" y2="160.48" stroke="#8a8a8a" stroke-width="0.6"/>
<line x1="621.95" y1="171.97" x2="623.35" y2="171.97" stroke="#8a8a8a" stroke-width="0.6"/>
<line x1="647.43" y1="170.06" x2="647.43" y2="179.64" stroke="#9c9c9c" stroke-width="0.8"/>
<line x1="646.73" y1="170.06" x2="648.13" y2="170.06" stroke="#8a8a8a" stroke-width="0.6"/>
<line x1="646.73" y1="179.64" x2="648.13" y2="179.64" stroke="#8a8a8a" stroke-width="0.6"/>
<line x1="697" y1="181.17" x2="697" y2="185.77" stroke="#9c9c9c" stroke-width="0.8"/>
<line x1="696.3" y1="181.17" x2="697.7" y2="181.17" stroke="#8a8a8a" stroke-width="0.6"/>
<line x1="696.3" y1="185.77" x2="697.7" y2="185.77" stroke="#8a8a8a" stroke-width="0.6"/>
<line x1="552.43" y1="158.56" x2="552.43" y2="177.72" stroke="#9c9c9c" stroke-width="0.8"/>
<line x1="551.73" y1="158.56" x2="553.13" y2="158.56" stroke="#8a8a8a" stroke-width="0.6"/>
<line x1="551.73" y1="177.72" x2="553.13" y2="177.72" stroke="#8a8a8a" stroke-width="0.6"/>
<line x1="556.56" y1="149.94" x2="556.56" y2="171.01" stroke="#9c9c9c" stroke-width="0.8"/>
<line x1="555.86" y1="149.94" x2="557.26" y2="149.94" stroke="#8a8a8a" stroke-width="0.6"/>
<line x1="555.86" y1="171.01" x2="557.26" y2="171.01" stroke="#8a8a8a" stroke-width="0.6"/>
<line x1="559.66" y1="145.15" x2="559.66" y2="168.14" stroke="#9c9c9c" stroke-width="0.8"/>
<line x1="558.96" y1="145.15" x2="560.36" y2="145.15" stroke="#8a8a8a" stroke-width="0.6"/>
<line x1="558.96" y1="168.14" x2="560.36" y2="168.14" stroke="#8a8a8a" stroke-width="0.6"/>
<line x1="563.17" y1="139.4" x2="563.17" y2="166.22" stroke="#9c9c9c" stroke-width="0.8"/>
<line x1="562.47" y1="139.4" x2="563.87" y2="139.4" stroke="#8a8a8a" stroke-width="0.6"/>
<line x1="562.47" y1="166.22" x2="563.87" y2="166.22" stroke="#8a8a8a" stroke-width="0.6"/>
<line x1="566.06" y1="133.65" x2="566.06" y2="160.48" stroke="#9c9c9c" stroke-width="0.8"/>
<line x1="565.36" y1="133.65" x2="566.76" y2="133.65" stroke="#8a8a8a" stroke-width="0.6"/>
<line x1="565.36" y1="160.48" x2="566.76" y2="160.48" stroke="#8a8a8a" stroke-width="0.6"/>
<line x1="569.37" y1="129.82" x2="569.37" y2="156.64" stroke="#9c9c9c" stroke-width="0.8"/>
<line x1="568.67" y1="129.82" x2="570.07" y2="129.82" stroke="#8a8a8a" stroke-width="0.6"/>
<line x1="568.67" y1="156.64" x2="570.07" y2="156.64" stroke="#8a8a8a" stroke-width="0.6"/>
<line x1="574.32" y1="126.95" x2="574.32" y2="151.85" stroke="#9c9c9c" stroke-width="0.8"/>
<line x1="573.62" y1="126.95" x2="575.02" y2="126.95" stroke="#8a8a8a" stroke-width="0.6"/>
<line x1="573.62" y1="151.85" x2="575.02" y2="151.85" stroke="#8a8a8a" stroke-width="0.6"/>
<line x1="579.69" y1="122.16" x2="579.69" y2="148.98" stroke="#9c9c9c" stroke-width="0.8"/>
<line x1="578.99" y1="122.16" x2="580.39" y2="122.16" stroke="#8a8a8a" stroke-width="0.6"/>
<line x1="578.99" y1="148.98" x2="580.39" y2="148.98" stroke="#8a8a8a" stroke-width="0.6"/>
<line x1="586.71" y1="118.32" x2="586.71" y2="148.98" stroke="#9c9c9c" stroke-width="0.8"/>
<line x1="586.01" y1="118.32" x2="587.41" y2="118.32" stroke="#8a8a8a" stroke-width="0.6"/>
<line x1="586.01" y1="148.98" x2="587.41" y2="148.98" stroke="#8a8a8a" stroke-width="0.6"/>
<line x1="597.87" y1="130.78" x2="597.87" y2="149.94" stroke="#9c9c9c" stroke-width="0.8"/>
<line x1="597.17" y1="130.78" x2="598.57" y2="130.78" stroke="#8a8a8a" stroke-width="0.6"/>
<line x1="597.17" y1="149.94" x2="598.57" y2="149.94" stroke="#8a8a8a" stroke-width="0.6"/>
<line x1="622.65" y1="150.9" x2="622.65" y2="171.97" stroke="#9c9c9c" stroke-width="0.8"/>
<line x1="621.95" y1="150.9" x2="623.35" y2="150.9" stroke="#8a8a8a" stroke-width="0.6"/>
<line x1="621.95" y1="171.97" x2="623.35" y2="171.97" stroke="#8a8a8a" stroke-width="0.6"/>
<line x1="647.43" y1="165.27" x2="647.43" y2="178.68" stroke="#9c9c9c" stroke-width="0.8"/>
<line x1="646.73" y1="165.27" x2="648.13" y2="165.27" stroke="#8a8a8a" stroke-width="0.6"/>
<line x1="646.73" y1="178.68" x2="648.13" y2="178.68" stroke="#8a8a8a" stroke-width="0.6"/>
<line x1="697" y1="178.68" x2="697" y2="184.43" stroke="#9c9c9c" stroke-width="0.8"/>
<line x1="696.3" y1="178.68" x2="697.7" y2="178.68" stroke="#8a8a8a" stroke-width="0.6"/>
<line x1="696.3" y1="184.43" x2="697.7" y2="184.43" stroke="#8a8a8a" stroke-width="0.6"/>
<line x1="552.43" y1="164.31" x2="552.43" y2="179.64" stroke="#9c9c9c" stroke-width="0.8"/>
<line x1="551.73" y1="164.31" x2="553.13" y2="164.31" stroke="#8a8a8a" stroke-width="0.6"/>
<line x1="551.73" y1="179.64" x2="553.13" y2="179.64" stroke="#8a8a8a" stroke-width="0.6"/>
<line x1="556.97" y1="156.64" x2="556.97" y2="175.8" stroke="#9c9c9c" stroke-width="0.8"/>
<line x1="556.27" y1="156.64" x2="557.67" y2="156.64" stroke="#8a8a8a" stroke-width="0.6"/>
<line x1="556.27" y1="175.8" x2="557.67" y2="175.8" stroke="#8a8a8a" stroke-width="0.6"/>
<line x1="559.66" y1="152.81" x2="559.66" y2="173.89" stroke="#9c9c9c" stroke-width="0.8"/>
<line x1="558.96" y1="152.81" x2="560.36" y2="152.81" stroke="#8a8a8a" stroke-width="0.6"/>
<line x1="558.96" y1="173.89" x2="560.36" y2="173.89" stroke="#8a8a8a" stroke-width="0.6"/>
<line x1="563.17" y1="149.94" x2="563.17" y2="172.93" stroke="#9c9c9c" stroke-width="0.8"/>
<line x1="562.47" y1="149.94" x2="563.87" y2="149.94" stroke="#8a8a8a" stroke-width="0.6"/>
<line x1="562.47" y1="172.93" x2="563.87" y2="172.93" stroke="#8a8a8a" stroke-width="0.6"/>
<line x1="566.06" y1="146.11" x2="566.06" y2="171.01" stroke="#9c9c9c" stroke-width="0.8"/>
<line x1="565.36" y1="146.11" x2="566.76" y2="146.11" stroke="#8a8a8a" stroke-width="0.6"/>
<line x1="565.36" y1="171.01" x2="566.76" y2="171.01" stroke="#8a8a8a" stroke-width="0.6"/>
<line x1="572.26" y1="141.32" x2="572.26" y2="166.22" stroke="#9c9c9c" stroke-width="0.8"/>
<line x1="571.56" y1="141.32" x2="572.96" y2="141.32" stroke="#8a8a8a" stroke-width="0.6"/>
<line x1="571.56" y1="166.22" x2="572.96" y2="166.22" stroke="#8a8a8a" stroke-width="0.6"/>
<line x1="579.69" y1="134.61" x2="579.69" y2="161.43" stroke="#9c9c9c" stroke-width="0.8"/>
<line x1="578.99" y1="134.61" x2="580.39" y2="134.61" stroke="#8a8a8a" stroke-width="0.6"/>
<line x1="578.99" y1="161.43" x2="580.39" y2="161.43" stroke="#8a8a8a" stroke-width="0.6"/>
<line x1="586.71" y1="131.74" x2="586.71" y2="162.39" stroke="#9c9c9c" stroke-width="0.8"/>
<line x1="586.01" y1="131.74" x2="587.41" y2="131.74" stroke="#8a8a8a" stroke-width="0.6"/>
<line x1="586.01" y1="162.39" x2="587.41" y2="162.39" stroke="#8a8a8a" stroke-width="0.6"/>
<line x1="599.11" y1="130.78" x2="599.11" y2="159.52" stroke="#9c9c9c" stroke-width="0.8"/>
<line x1="598.41" y1="130.78" x2="599.81" y2="130.78" stroke="#8a8a8a" stroke-width="0.6"/>
<line x1="598.41" y1="159.52" x2="599.81" y2="159.52" stroke="#8a8a8a" stroke-width="0.6"/>
<line x1="622.65" y1="149.94" x2="622.65" y2="169.1" stroke="#9c9c9c" stroke-width="0.8"/>
<line x1="621.95" y1="149.94" x2="623.35" y2="149.94" stroke="#8a8a8a" stroke-width="0.6"/>
<line x1="621.95" y1="169.1" x2="623.35" y2="169.1" stroke="#8a8a8a" stroke-width="0.6"/>
<line x1="647.43" y1="168.14" x2="647.43" y2="179.64" stroke="#9c9c9c" stroke-width="0.8"/>
<line x1="646.73" y1="168.14" x2="648.13" y2="168.14" stroke="#8a8a8a" stroke-width="0.6"/>
<line x1="646.73" y1="179.64" x2="648.13" y2="179.64" stroke="#8a8a8a" stroke-width="0.6"/>
<line x1="697" y1="180.59" x2="697" y2="186.34" stroke="#9c9c9c" stroke-width="0.8"/>
<line x1="696.3" y1="180.59" x2="697.7" y2="180.59" stroke="#8a8a8a" stroke-width="0.6"/>
<line x1="696.3" y1="186.34" x2="697.7" y2="186.34" stroke="#8a8a8a" stroke-width="0.6"/>
<line x1="549.47" y1="171.97" x2="551.27" y2="171.97" stroke="#6060b8" stroke-width="0.9"/>
<line x1="551.53" y1="158.56" x2="553.33" y2="158.56" stroke="#6060b8" stroke-width="0.9"/>
<line x1="553.6" y1="145.15" x2="555.4" y2="145.15" stroke="#6060b8" stroke-width="0.9"/>
<line x1="555.66" y1="129.82" x2="557.46" y2="129.82" stroke="#6060b8" stroke-width="0.9"/>
<line x1="557.73" y1="119.28" x2="559.53" y2="119.28" stroke="#6060b8" stroke-width="0.9"/>
<line x1="559.79" y1="117.37" x2="561.59" y2="117.37" stroke="#6060b8" stroke-width="0.9"/>
<line x1="562.89" y1="118.32" x2="564.69" y2="118.32" stroke="#6060b8" stroke-width="0.9"/>
<line x1="565.99" y1="118.32" x2="567.79" y2="118.32" stroke="#6060b8" stroke-width="0.9"/>
<line x1="569.09" y1="117.94" x2="570.89" y2="117.94" stroke="#6060b8" stroke-width="0.9"/>
<line x1="572.18" y1="119.28" x2="573.98" y2="119.28" stroke="#6060b8" stroke-width="0.9"/>
<line x1="574.25" y1="121.2" x2="576.05" y2="121.2" stroke="#6060b8" stroke-width="0.9"/>
<line x1="578.38" y1="127.9" x2="580.18" y2="127.9" stroke="#6060b8" stroke-width="0.9"/>
<line x1="584.57" y1="135.57" x2="586.37" y2="135.57" stroke="#6060b8" stroke-width="0.9"/>
<line x1="596.97" y1="148.98" x2="598.77" y2="148.98" stroke="#6060b8" stroke-width="0.9"/>
<line x1="621.75" y1="166.22" x2="623.55" y2="166.22" stroke="#6060b8" stroke-width="0.9"/>
<line x1="646.53" y1="174.85" x2="648.33" y2="174.85" stroke="#6060b8" stroke-width="0.9"/>
<line x1="696.1" y1="183.47" x2="697.9" y2="183.47" stroke="#6060b8" stroke-width="0.9"/>
<line x1="551.53" y1="168.14" x2="553.33" y2="168.14" stroke="#40a070" stroke-width="0.9"/>
<line x1="555.66" y1="160.48" x2="557.46" y2="160.48" stroke="#40a070" stroke-width="0.9"/>
<line x1="558.76" y1="156.64" x2="560.56" y2="156.64" stroke="#40a070" stroke-width="0.9"/>
<line x1="562.27" y1="152.81" x2="564.07" y2="152.81" stroke="#40a070" stroke-width="0.9"/>
<line x1="565.16" y1="147.06" x2="566.96" y2="147.06" stroke="#40a070" stroke-width="0.9"/>
<line x1="568.47" y1="143.23" x2="570.27" y2="143.23" stroke="#40a070" stroke-width="0.9"/>
<line x1="573.42" y1="139.4" x2="575.22" y2="139.4" stroke="#40a070" stroke-width="0.9"/>
<line x1="578.79" y1="135.57" x2="580.59" y2="135.57" stroke="#40a070" stroke-width="0.9"/>
<line x1="585.81" y1="133.65" x2="587.61" y2="133.65" stroke="#40a070" stroke-width="0.9"/>
<line x1="596.97" y1="140.36" x2="598.77" y2="140.36" stroke="#40a070" stroke-width="0.9"/>
<line x1="621.75" y1="161.43" x2="623.55" y2="161.43" stroke="#40a070" stroke-width="0.9"/>
<line x1="646.53" y1="171.97" x2="648.33" y2="171.97" stroke="#40a070" stroke-width="0.9"/>
<line x1="696.1" y1="181.55" x2="697.9" y2="181.55" stroke="#40a070" stroke-width="0.9"/>
<line x1="551.53" y1="171.97" x2="553.33" y2="171.97" stroke="#c8609a" stroke-width="0.9"/>
<line x1="556.07" y1="166.22" x2="557.87" y2="166.22" stroke="#c8609a" stroke-width="0.9"/>
<line x1="558.76" y1="163.35" x2="560.56" y2="163.35" stroke="#c8609a" stroke-width="0.9"/>
<line x1="562.27" y1="161.43" x2="564.07" y2="161.43" stroke="#c8609a" stroke-width="0.9"/>
<line x1="565.16" y1="158.56" x2="566.96" y2="158.56" stroke="#c8609a" stroke-width="0.9"/>
<line x1="571.36" y1="153.77" x2="573.16" y2="153.77" stroke="#c8609a" stroke-width="0.9"/>
<line x1="578.79" y1="148.02" x2="580.59" y2="148.02" stroke="#c8609a" stroke-width="0.9"/>
<line x1="585.81" y1="147.06" x2="587.61" y2="147.06" stroke="#c8609a" stroke-width="0.9"/>
<line x1="598.21" y1="145.15" x2="600.01" y2="145.15" stroke="#c8609a" stroke-width="0.9"/>
<line x1="621.75" y1="159.52" x2="623.55" y2="159.52" stroke="#c8609a" stroke-width="0.9"/>
<line x1="646.53" y1="173.89" x2="648.33" y2="173.89" stroke="#c8609a" stroke-width="0.9"/>
<line x1="696.1" y1="183.47" x2="697.9" y2="183.47" stroke="#c8609a" stroke-width="0.9"/>
<polyline points="548.3,187.3 550.78,176.76 553.46,169.48 558.63,163.35 564.82,158.18 572.46,150.9 584.65,136.33 597.87,129.82 622.65,166.22 647.43,175.42 697,183.47" fill="none" stroke="#c23d8f" stroke-width="1.35" stroke-linejoin="round" stroke-linecap="round"/>
<polyline points="548.3,187.3 551.4,174.27 554.5,166.61 558.63,160.48 562.76,153.77 566.89,143.23 571.02,136.53 574.12,133.08 584.44,127.9 597.87,140.36 622.65,162.39 647.43,172.93 697,182.51" fill="none" stroke="#139653" stroke-width="1.35" stroke-linejoin="round" stroke-linecap="round"/>
<polyline points="548.3,187.3 550.37,173.89 553.05,162.01 558.42,147.64 562.76,134.61 567.92,120.24 572.46,117.37 597.87,148.98 622.65,166.22 647.43,174.85 697,183.47" fill="none" stroke="#2a3594" stroke-width="1.35" stroke-linejoin="round" stroke-linecap="round"/>
<rect x="627.2" y="99.2" width="32.7" height="24.2" fill="#fff" stroke="#8a8a8a" stroke-width="0.8"/>
<circle cx="630.6" cy="104.4" r="0.7" fill="#8080c8"/>
<text x="634" y="106.4" font-size="6.2" fill="#1a1a1a" font-family="'Liberation Serif', serif" textLength="15.4" lengthAdjust="spacingAndGlyphs">Fast-A</text>
<circle cx="630.6" cy="111.9" r="0.7" fill="#80a090"/>
<text x="634" y="113.9" font-size="6.2" fill="#1a1a1a" font-family="'Liberation Serif', serif" textLength="24" lengthAdjust="spacingAndGlyphs">Medium-B</text>
<circle cx="630.6" cy="119.3" r="0.7" fill="#d880a8"/>
<text x="634" y="121.3" font-size="6.2" fill="#1a1a1a" font-family="'Liberation Serif', serif" textLength="17.8" lengthAdjust="spacingAndGlyphs">Slow-C</text>
</g>
<text x="232" y="236.5" font-size="14.2" fill="#0a72bd" font-family="'Liberation Sans', sans-serif" font-weight="bold" font-style="italic" textLength="99.8" lengthAdjust="spacingAndGlyphs">Deconvolution</text>
<path d="M242.7 246.1L287.7 246.1L287.7 238.9L308.8 252.95L287.7 266.7L287.7 259.8L242.7 259.8Z" fill="#0b70bd" stroke="#1a2b45" stroke-width="1" stroke-linejoin="miter"/>
<g transform="translate(220.5 278.5) scale(0.836) translate(-384 -103)">
<rect x="384" y="103" width="125.5" height="92.3" fill="#fff" stroke="#4a4a4a" stroke-width="1.4" rx="1"/>
<text x="450" y="111.9" font-size="7" fill="#1a1a1a" font-family="'Liberation Sans', sans-serif" font-weight="bold" text-anchor="middle" textLength="11.5" lengthAdjust="spacingAndGlyphs">URI</text>
<line x1="404.6" y1="179.8" x2="503.2" y2="179.8" stroke="#9a9a9a" stroke-width="0.9"/>
<text x="401.4" y="181.2" font-size="4.3" fill="#444" font-family="'Liberation Serif', serif" text-anchor="end">0.00</text>
<line x1="404.6" y1="164.98" x2="503.2" y2="164.98" stroke="#9a9a9a" stroke-width="0.9"/>
<text x="401.4" y="166.38" font-size="4.3" fill="#444" font-family="'Liberation Serif', serif" text-anchor="end">4.00</text>
<line x1="404.6" y1="150.15" x2="503.2" y2="150.15" stroke="#9a9a9a" stroke-width="0.9"/>
<text x="401.4" y="151.55" font-size="4.3" fill="#444" font-family="'Liberation Serif', serif" text-anchor="end">8.00</text>
<line x1="404.6" y1="135.32" x2="503.2" y2="135.32" stroke="#9a9a9a" stroke-width="0.9"/>
<text x="401.4" y="136.72" font-size="4.3" fill="#444" font-family="'Liberation Serif', serif" text-anchor="end">12.00</text>
<line x1="404.6" y1="120.5" x2="503.2" y2="120.5" stroke="#9a9a9a" stroke-width="0.9"/>
<text x="401.4" y="121.9" font-size="4.3" fill="#444" font-family="'Liberation Serif', serif" text-anchor="end">16.00</text>
<rect x="404.6" y="113.09" width="98.6" height="66.71" fill="none" stroke="#555" stroke-width="1.2"/>
<text x="404.6" y="186" font-size="4.3" fill="#444" font-family="'Liberation Serif', serif" text-anchor="middle">0</text>
<text x="421.03" y="186" font-size="4.3" fill="#444" font-family="'Liberation Serif', serif" text-anchor="middle">2</text>
<text x="437.47" y="186" font-size="4.3" fill="#444" font-family="'Liberation Serif', serif" text-anchor="middle">4</text>
<text x="453.9" y="186" font-size="4.3" fill="#444" font-family="'Liberation Serif', serif" text-anchor="middle">6</text>
<text x="470.33" y="186" font-size="4.3" fill="#444" font-family="'Liberation Serif', serif" text-anchor="middle">8</text>
<text x="486.77" y="186" font-size="4.3" fill="#444" font-family="'Liberation Serif', serif" text-anchor="middle">10</text>
<text x="503.2" y="186" font-size="4.3" fill="#444" font-family="'Liberation Serif', serif" text-anchor="middle">12</text>
<text x="447.5" y="191.8" font-size="4.6" fill="#222" font-family="'Liberation Sans', sans-serif" font-weight="bold" text-anchor="middle">Time (hr)</text>
<text x="389.6" y="146.5" font-size="5.2" fill="#222" font-family="'Liberation Sans', sans-serif" font-weight="bold" text-anchor="middle" transform="rotate(-90 389.6 146.5)">Cp</text>
<polyline points="404.6,117.53 405.42,120.63 406.24,123.57 407.06,126.37 407.89,129.03 408.71,131.55 409.53,133.95 410.35,136.23 411.17,138.4 412,140.45 412.82,142.41 413.64,144.27 414.46,146.04 415.28,147.71 416.1,149.31 416.93,150.83 417.75,152.27 418.57,153.64 419.39,154.94 420.21,156.17 421.03,157.35 421.86,158.46 422.68,159.52 423.5,160.53 424.32,161.49 425.14,162.4 425.96,163.27 426.79,164.09 427.61,164.87 428.43,165.61 429.25,166.32 430.07,166.99 430.89,167.62 431.72,168.23 432.54,168.81 433.36,169.35 434.18,169.87 435,170.37 435.82,170.83 436.64,171.28 437.47,171.7 438.29,172.11 439.11,172.49 439.93,172.85 440.75,173.2 441.57,173.53 442.4,173.84 443.22,174.13 444.04,174.42 444.86,174.68 445.68,174.94 446.5,175.18 447.33,175.41 448.15,175.63 448.97,175.84 449.79,176.03 450.61,176.22 451.44,176.4 452.26,176.57 453.08,176.73 453.9,176.88 454.72,177.03 455.54,177.16 456.37,177.29 457.19,177.42 458.01,177.54 458.83,177.65 459.65,177.76 460.47,177.86 461.3,177.96 462.12,178.05 462.94,178.13 463.76,178.22 464.58,178.3 465.4,178.37 466.23,178.44 467.05,178.51 467.87,178.57 468.69,178.63 469.51,178.69 470.33,178.75 471.15,178.8 471.98,178.85 472.8,178.9 473.62,178.94 474.44,178.98 475.26,179.02 476.09,179.06 476.91,179.1 477.73,179.13 478.55,179.17 479.37,179.2 480.19,179.23 481.01,179.26 481.84,179.28 482.66,179.31 483.48,179.33 484.3,179.36 485.12,179.38 485.94,179.4 486.77,179.42 487.59,179.44 488.41,179.46 489.23,179.47 490.05,179.49 490.88,179.51 491.7,179.52 492.52,179.53 493.34,179.55 494.16,179.56 494.98,179.57 495.81,179.58 496.63,179.59 497.45,179.6 498.27,179.61 499.09,179.62 499.91,179.63 500.74,179.64 501.56,179.65 502.38,179.66 503.2,179.66" fill="none" stroke="#e4603e" stroke-width="1.1" stroke-linejoin="round" stroke-linecap="round"/>
<path d="M404.6 115.98L406.15 117.53L404.6 119.08L403.05 117.53Z" fill="#3a82c4"/>
<path d="M408.71 130L410.26 131.55L408.71 133.1L407.16 131.55Z" fill="#3a82c4"/>
<path d="M412.82 140.86L414.37 142.41L412.82 143.96L411.27 142.41Z" fill="#3a82c4"/>
<path d="M416.93 149.28L418.48 150.83L416.93 152.38L415.38 150.83Z" fill="#3a82c4"/>
<path d="M421.03 155.8L422.58 157.35L421.03 158.9L419.48 157.35Z" fill="#3a82c4"/>
<path d="M425.14 160.85L426.69 162.4L425.14 163.95L423.59 162.4Z" fill="#3a82c4"/>
<path d="M429.25 164.77L430.8 166.32L429.25 167.87L427.7 166.32Z" fill="#3a82c4"/>
<path d="M433.36 167.8L434.91 169.35L433.36 170.9L431.81 169.35Z" fill="#3a82c4"/>
<path d="M437.47 170.15L439.02 171.7L437.47 173.25L435.92 171.7Z" fill="#3a82c4"/>
<path d="M441.57 171.98L443.12 173.53L441.57 175.08L440.02 173.53Z" fill="#3a82c4"/>
<path d="M445.68 173.39L447.23 174.94L445.68 176.49L444.13 174.94Z" fill="#3a82c4"/>
<path d="M449.79 174.48L451.34 176.03L449.79 177.58L448.24 176.03Z" fill="#3a82c4"/>
<path d="M453.9 175.33L455.45 176.88L453.9 178.43L452.35 176.88Z" fill="#3a82c4"/>
<path d="M458.01 175.99L459.56 177.54L458.01 179.09L456.46 177.54Z" fill="#3a82c4"/>
<path d="M462.12 176.5L463.67 178.05L462.12 179.6L460.57 178.05Z" fill="#3a82c4"/>
<path d="M466.23 176.89L467.78 178.44L466.23 179.99L464.68 178.44Z" fill="#3a82c4"/>
<path d="M470.33 177.2L471.88 178.75L470.33 180.3L468.78 178.75Z" fill="#3a82c4"/>
<path d="M478.55 177.62L480.1 179.17L478.55 180.72L477 179.17Z" fill="#3a82c4"/>
<path d="M486.77 177.87L488.32 179.42L486.77 180.97L485.22 179.42Z" fill="#3a82c4"/>
<path d="M494.98 178.02L496.53 179.57L494.98 181.12L493.43 179.57Z" fill="#3a82c4"/>
<path d="M503.2 178.11L504.75 179.66L503.2 181.21L501.65 179.66Z" fill="#3a82c4"/>
</g>
<text x="346.6" y="264" font-size="12" fill="#111" font-family="'Liberation Sans', sans-serif" font-weight="bold" textLength="131.4" lengthAdjust="spacingAndGlyphs">Estimated in vivo input</text>
<rect x="336.8" y="269.3" width="150" height="93.5" fill="#fff" stroke="#1c1c1c" stroke-width="1.3" rx="1"/>
<text x="412.3" y="279.6" font-size="6.3" fill="#1a1a1a" font-family="'Liberation Sans', sans-serif" font-weight="bold" text-anchor="middle" textLength="21.2" lengthAdjust="spacingAndGlyphs">In vivo</text>
<line x1="367.3" y1="333.8" x2="473.86" y2="333.8" stroke="#1e1e1e" stroke-width="1.1"/>
<line x1="367.3" y1="321" x2="473.86" y2="321" stroke="#1e1e1e" stroke-width="1.1"/>
<line x1="367.3" y1="308.2" x2="473.86" y2="308.2" stroke="#1e1e1e" stroke-width="1.1"/>
<line x1="367.3" y1="295.4" x2="473.86" y2="295.4" stroke="#1e1e1e" stroke-width="1.1"/>
<line x1="367.3" y1="282.6" x2="473.86" y2="282.6" stroke="#1e1e1e" stroke-width="1.1"/>
<line x1="473.86" y1="282.6" x2="473.86" y2="346.6" stroke="#9a9a9a" stroke-width="0.8"/>
<line x1="367.3" y1="282.6" x2="367.3" y2="347.1" stroke="#000" stroke-width="1.1"/>
<line x1="366.8" y1="346.6" x2="473.86" y2="346.6" stroke="#000" stroke-width="1.1"/>
<line x1="365.7" y1="346.6" x2="367.3" y2="346.6" stroke="#000" stroke-width="0.9"/>
<text x="364.1" y="348.1" font-size="4.3" fill="#3a3a3a" font-family="'Liberation Sans', sans-serif" text-anchor="end">-</text>
<line x1="365.7" y1="333.8" x2="367.3" y2="333.8" stroke="#000" stroke-width="0.9"/>
<text x="364.1" y="335.3" font-size="4.3" fill="#3a3a3a" font-family="'Liberation Sans', sans-serif" text-anchor="end">0.200</text>
<line x1="365.7" y1="321" x2="367.3" y2="321" stroke="#000" stroke-width="0.9"/>
<text x="364.1" y="322.5" font-size="4.3" fill="#3a3a3a" font-family="'Liberation Sans', sans-serif" text-anchor="end">0.400</text>
<line x1="365.7" y1="308.2" x2="367.3" y2="308.2" stroke="#000" stroke-width="0.9"/>
<text x="364.1" y="309.7" font-size="4.3" fill="#3a3a3a" font-family="'Liberation Sans', sans-serif" text-anchor="end">0.600</text>
<line x1="365.7" y1="295.4" x2="367.3" y2="295.4" stroke="#000" stroke-width="0.9"/>
<text x="364.1" y="296.9" font-size="4.3" fill="#3a3a3a" font-family="'Liberation Sans', sans-serif" text-anchor="end">0.800</text>
<line x1="365.7" y1="282.6" x2="367.3" y2="282.6" stroke="#000" stroke-width="0.9"/>
<text x="364.1" y="284.1" font-size="4.3" fill="#3a3a3a" font-family="'Liberation Sans', sans-serif" text-anchor="end">1.000</text>
<line x1="367.3" y1="346.6" x2="367.3" y2="348.1" stroke="#000" stroke-width="0.9"/>
<text x="367.3" y="354.4" font-size="4.3" fill="#3a3a3a" font-family="'Liberation Sans', sans-serif" text-anchor="middle">0</text>
<line x1="389.5" y1="346.6" x2="389.5" y2="348.1" stroke="#000" stroke-width="0.9"/>
<text x="389.5" y="354.4" font-size="4.3" fill="#3a3a3a" font-family="'Liberation Sans', sans-serif" text-anchor="middle">5</text>
<line x1="411.7" y1="346.6" x2="411.7" y2="348.1" stroke="#000" stroke-width="0.9"/>
<text x="411.7" y="354.4" font-size="4.3" fill="#3a3a3a" font-family="'Liberation Sans', sans-serif" text-anchor="middle">10</text>
<line x1="433.9" y1="346.6" x2="433.9" y2="348.1" stroke="#000" stroke-width="0.9"/>
<text x="433.9" y="354.4" font-size="4.3" fill="#3a3a3a" font-family="'Liberation Sans', sans-serif" text-anchor="middle">15</text>
<line x1="456.1" y1="346.6" x2="456.1" y2="348.1" stroke="#000" stroke-width="0.9"/>
<text x="456.1" y="354.4" font-size="4.3" fill="#3a3a3a" font-family="'Liberation Sans', sans-serif" text-anchor="middle">20</text>
<text x="418" y="359.2" font-size="7.2" fill="#1a1a1a" font-family="'Liberation Sans', sans-serif" font-weight="bold" text-anchor="middle" textLength="30.5" lengthAdjust="spacingAndGlyphs">Time (hr)</text>
<text x="345.9" y="315" font-size="7.2" fill="#1a1a1a" font-family="'Liberation Sans', sans-serif" font-weight="bold" text-anchor="middle" textLength="38" lengthAdjust="spacingAndGlyphs" transform="rotate(-90 345.9 315)">% Released</text>
<polyline points="367.3,346.6 368.41,343.18 369.52,339.93 370.63,336.87 371.74,333.96 372.85,331.21 373.96,328.61 375.07,326.15 376.18,323.82 377.29,321.61 378.4,319.52 379.51,317.55 380.62,315.68 381.73,313.91 382.84,312.23 383.95,310.65 385.06,309.15 386.17,307.73 387.28,306.38 388.39,305.11 389.5,303.9 390.61,302.76 391.72,301.68 392.83,300.66 393.94,299.7 395.05,298.78 396.16,297.92 397.27,297.1 398.38,296.32 399.49,295.59 400.6,294.89 401.71,294.23 402.82,293.61 403.93,293.02 405.04,292.46 406.15,291.94 407.26,291.44 408.37,290.96 409.48,290.52 410.59,290.09 411.7,289.69 412.81,289.31 413.92,288.95 415.03,288.61 416.14,288.29 417.25,287.99 418.36,287.7 419.47,287.43 420.58,287.17 421.69,286.92 422.8,286.69 423.91,286.47 425.02,286.27 426.13,286.07 427.24,285.88 428.35,285.71 429.46,285.54 430.57,285.38 431.68,285.23 432.79,285.09 433.9,284.96 435.01,284.83 436.12,284.71 437.23,284.6 438.34,284.49 439.45,284.39 440.56,284.3 441.67,284.21 442.78,284.12 443.89,284.04 445,283.96 446.11,283.89 447.22,283.82 448.33,283.75 449.44,283.69 450.55,283.63 451.66,283.58 452.77,283.53 453.88,283.48 454.99,283.43 456.1,283.39 457.21,283.34 458.32,283.3 459.43,283.27 460.54,283.23 461.65,283.2 462.76,283.16 463.87,283.13 464.98,283.11 466.09,283.08 467.2,283.05 468.31,283.03 469.42,283.01 470.53,282.98 471.64,282.96 472.75,282.94 473.86,282.93" fill="none" stroke="#43459e" stroke-width="1" stroke-linejoin="round" stroke-linecap="round"/>
<polyline points="367.3,346.6 368.41,344.86 369.52,343.18 370.63,341.53 371.74,339.93 372.85,338.38 373.96,336.87 375.07,335.39 376.18,333.96 377.29,332.57 378.4,331.21 379.51,329.89 380.62,328.61 381.73,327.36 382.84,326.15 383.95,324.97 385.06,323.82 386.17,322.7 387.28,321.61 388.39,320.55 389.5,319.52 390.61,318.52 391.72,317.55 392.83,316.6 393.94,315.68 395.05,314.78 396.16,313.91 397.27,313.06 398.38,312.23 399.49,311.43 400.6,310.65 401.71,309.89 402.82,309.15 403.93,308.43 405.04,307.73 406.15,307.04 407.26,306.38 408.37,305.74 409.48,305.11 410.59,304.5 411.7,303.9 412.81,303.33 413.92,302.76 415.03,302.22 416.14,301.68 417.25,301.17 418.36,300.66 419.47,300.17 420.58,299.7 421.69,299.23 422.8,298.78 423.91,298.34 425.02,297.92 426.13,297.5 427.24,297.1 428.35,296.7 429.46,296.32 430.57,295.95 431.68,295.59 432.79,295.23 433.9,294.89 435.01,294.56 436.12,294.23 437.23,293.92 438.34,293.61 439.45,293.31 440.56,293.02 441.67,292.74 442.78,292.46 443.89,292.2 445,291.94 446.11,291.68 447.22,291.44 448.33,291.2 449.44,290.96 450.55,290.74 451.66,290.52 452.77,290.3 453.88,290.09 454.99,289.89 456.1,289.69 457.21,289.5 458.32,289.31 459.43,289.13 460.54,288.95 461.65,288.78 462.76,288.61 463.87,288.45 464.98,288.29 466.09,288.14 467.2,287.99 468.31,287.84 469.42,287.7 470.53,287.56 471.64,287.43 472.75,287.29 473.86,287.17" fill="none" stroke="#22ad72" stroke-width="1" stroke-linejoin="round" stroke-linecap="round"/>
<polyline points="367.3,346.6 368.41,345.51 369.52,344.43 370.63,343.37 371.74,342.33 372.85,341.31 373.96,340.31 375.07,339.32 376.18,338.35 377.29,337.4 378.4,336.46 379.51,335.54 380.62,334.63 381.73,333.74 382.84,332.87 383.95,332.01 385.06,331.16 386.17,330.33 387.28,329.52 388.39,328.71 389.5,327.93 390.61,327.15 391.72,326.39 392.83,325.64 393.94,324.9 395.05,324.18 396.16,323.47 397.27,322.77 398.38,322.08 399.49,321.41 400.6,320.74 401.71,320.09 402.82,319.45 403.93,318.82 405.04,318.2 406.15,317.59 407.26,316.99 408.37,316.41 409.48,315.83 410.59,315.26 411.7,314.7 412.81,314.15 413.92,313.61 415.03,313.08 416.14,312.56 417.25,312.05 418.36,311.54 419.47,311.05 420.58,310.56 421.69,310.08 422.8,309.61 423.91,309.15 425.02,308.7 426.13,308.25 427.24,307.81 428.35,307.38 429.46,306.96 430.57,306.54 431.68,306.13 432.79,305.73 433.9,305.33 435.01,304.95 436.12,304.56 437.23,304.19 438.34,303.82 439.45,303.46 440.56,303.1 441.67,302.75 442.78,302.4 443.89,302.07 445,301.73 446.11,301.41 447.22,301.08 448.33,300.77 449.44,300.46 450.55,300.15 451.66,299.85 452.77,299.56 453.88,299.27 454.99,298.98 456.1,298.7 457.21,298.43 458.32,298.16 459.43,297.89 460.54,297.63 461.65,297.37 462.76,297.12 463.87,296.87 464.98,296.63 466.09,296.39 467.2,296.15 468.31,295.92 469.42,295.69 470.53,295.47 471.64,295.25 472.75,295.03 473.86,294.82" fill="none" stroke="#d56aa4" stroke-width="1" stroke-linejoin="round" stroke-linecap="round"/>
<rect x="443.4" y="318.6" width="24.8" height="24.7" fill="#fff" stroke="#1c1c1c" stroke-width="1" rx="1"/>
<line x1="445.8" y1="323.3" x2="460.2" y2="323.3" stroke="#43459e" stroke-width="1"/>
<text x="462.6" y="324.8" font-size="4.3" fill="#333" font-family="'Liberation Sans', sans-serif">A</text>
<line x1="445.8" y1="331.6" x2="460.2" y2="331.6" stroke="#22ad72" stroke-width="1"/>
<text x="462.6" y="333.1" font-size="4.3" fill="#333" font-family="'Liberation Sans', sans-serif">B</text>
<line x1="445.8" y1="339.4" x2="460.2" y2="339.4" stroke="#d56aa4" stroke-width="1"/>
<text x="462.6" y="340.9" font-size="4.3" fill="#333" font-family="'Liberation Sans', sans-serif">C</text>
<text x="500.4" y="234.6" font-size="14.3" fill="#0a72bd" font-family="'Liberation Sans', sans-serif" font-weight="bold" font-style="italic" textLength="107.9" lengthAdjust="spacingAndGlyphs">IVIVC modeling</text>
<path d="M516.3 248.3L561 248.3L561 241L582.6 255.2L561 268.6L561 262.1L516.3 262.1Z" fill="#0b70bd" stroke="#1a2b45" stroke-width="1" stroke-linejoin="miter"/>
<text x="523.1" y="276.8" font-size="8.3" fill="#1a1a1a" font-family="'Liberation Sans', sans-serif" font-weight="bold" textLength="77.6" lengthAdjust="spacingAndGlyphs">In vitro drug release</text>
<g transform="translate(497.7 282.3) scale(0.71) translate(-86.2 -90.3)">
<rect x="86.2" y="90.3" width="163.8" height="104.5" fill="#fff" stroke="#1c1c1c" stroke-width="1.5" rx="1"/>
<line x1="108.1" y1="165.22" x2="245.2" y2="165.22" stroke="#1e1e1e" stroke-width="0.95"/>
<line x1="108.1" y1="152.23" x2="245.2" y2="152.23" stroke="#1e1e1e" stroke-width="0.95"/>
<line x1="108.1" y1="139.25" x2="245.2" y2="139.25" stroke="#1e1e1e" stroke-width="0.95"/>
<line x1="108.1" y1="126.27" x2="245.2" y2="126.27" stroke="#1e1e1e" stroke-width="0.95"/>
<line x1="108.1" y1="113.28" x2="245.2" y2="113.28" stroke="#1e1e1e" stroke-width="0.95"/>
<line x1="108.1" y1="100.3" x2="245.2" y2="100.3" stroke="#2a2a2a" stroke-width="0.9"/>
<line x1="245.2" y1="100.3" x2="245.2" y2="178.2" stroke="#9a9a9a" stroke-width="0.8"/>
<line x1="108.1" y1="100.3" x2="108.1" y2="178.7" stroke="#000" stroke-width="1"/>
<line x1="107.6" y1="178.2" x2="245.2" y2="178.2" stroke="#000" stroke-width="1"/>
<line x1="106.5" y1="178.2" x2="108.1" y2="178.2" stroke="#000" stroke-width="0.9"/>
<text x="105.5" y="179.9" font-size="4.7" fill="#3a3a3a" font-family="'Liberation Sans', sans-serif" text-anchor="end">0.0</text>
<line x1="106.5" y1="165.22" x2="108.1" y2="165.22" stroke="#000" stroke-width="0.9"/>
<text x="105.5" y="166.92" font-size="4.7" fill="#3a3a3a" font-family="'Liberation Sans', sans-serif" text-anchor="end">20.0</text>
<line x1="106.5" y1="152.23" x2="108.1" y2="152.23" stroke="#000" stroke-width="0.9"/>
<text x="105.5" y="153.93" font-size="4.7" fill="#3a3a3a" font-family="'Liberation Sans', sans-serif" text-anchor="end">40.0</text>
<line x1="106.5" y1="139.25" x2="108.1" y2="139.25" stroke="#000" stroke-width="0.9"/>
<text x="105.5" y="140.95" font-size="4.7" fill="#3a3a3a" font-family="'Liberation Sans', sans-serif" text-anchor="end">60.0</text>
<line x1="106.5" y1="126.27" x2="108.1" y2="126.27" stroke="#000" stroke-width="0.9"/>
<text x="105.5" y="127.97" font-size="4.7" fill="#3a3a3a" font-family="'Liberation Sans', sans-serif" text-anchor="end">80.0</text>
<line x1="106.5" y1="113.28" x2="108.1" y2="113.28" stroke="#000" stroke-width="0.9"/>
<text x="105.5" y="114.98" font-size="4.7" fill="#3a3a3a" font-family="'Liberation Sans', sans-serif" text-anchor="end">100.0</text>
<line x1="106.5" y1="100.3" x2="108.1" y2="100.3" stroke="#000" stroke-width="0.9"/>
<text x="105.5" y="102" font-size="4.7" fill="#3a3a3a" font-family="'Liberation Sans', sans-serif" text-anchor="end">120.0</text>
<line x1="108.1" y1="177.4" x2="108.1" y2="179.4" stroke="#000" stroke-width="0.9"/>
<text x="108.1" y="186.6" font-size="4.7" fill="#3a3a3a" font-family="'Liberation Sans', sans-serif" text-anchor="middle">0</text>
<line x1="135.52" y1="177.4" x2="135.52" y2="179.4" stroke="#000" stroke-width="0.9"/>
<text x="135.52" y="186.6" font-size="4.7" fill="#3a3a3a" font-family="'Liberation Sans', sans-serif" text-anchor="middle">5</text>
<line x1="162.94" y1="177.4" x2="162.94" y2="179.4" stroke="#000" stroke-width="0.9"/>
<text x="162.94" y="186.6" font-size="4.7" fill="#3a3a3a" font-family="'Liberation Sans', sans-serif" text-anchor="middle">10</text>
<line x1="190.36" y1="177.4" x2="190.36" y2="179.4" stroke="#000" stroke-width="0.9"/>
<text x="190.36" y="186.6" font-size="4.7" fill="#3a3a3a" font-family="'Liberation Sans', sans-serif" text-anchor="middle">15</text>
<line x1="217.78" y1="177.4" x2="217.78" y2="179.4" stroke="#000" stroke-width="0.9"/>
<text x="217.78" y="186.6" font-size="4.7" fill="#3a3a3a" font-family="'Liberation Sans', sans-serif" text-anchor="middle">20</text>
<line x1="245.2" y1="177.4" x2="245.2" y2="179.4" stroke="#000" stroke-width="0.9"/>
<text x="245.2" y="186.6" font-size="4.7" fill="#3a3a3a" font-family="'Liberation Sans', sans-serif" text-anchor="middle">25</text>
<text x="176.7" y="191.4" font-size="4.9" fill="#1a1a1a" font-family="'Liberation Sans', sans-serif" font-weight="bold" text-anchor="middle">T(hr)</text>
<text x="91.9" y="139.5" font-size="4.9" fill="#1a1a1a" font-family="'Liberation Sans', sans-serif" font-weight="bold" text-anchor="middle" transform="rotate(-90 91.9 139.5)">% Released</text>
<circle cx="108.1" cy="178.2" r="1.89" fill="#1b2383"/>
<circle cx="110.84" cy="172.46" r="1.89" fill="#1b2383"/>
<circle cx="113.58" cy="167.24" r="1.89" fill="#1b2383"/>
<circle cx="116.33" cy="162.47" r="1.89" fill="#1b2383"/>
<circle cx="119.07" cy="158.12" r="1.89" fill="#1b2383"/>
<circle cx="121.81" cy="154.16" r="1.89" fill="#1b2383"/>
<circle cx="124.55" cy="150.55" r="1.89" fill="#1b2383"/>
<circle cx="127.29" cy="147.26" r="1.89" fill="#1b2383"/>
<circle cx="130.04" cy="144.26" r="1.89" fill="#1b2383"/>
<circle cx="132.78" cy="141.52" r="1.89" fill="#1b2383"/>
<circle cx="135.52" cy="139.02" r="1.89" fill="#1b2383"/>
<circle cx="138.26" cy="136.75" r="1.89" fill="#1b2383"/>
<circle cx="141" cy="134.68" r="1.89" fill="#1b2383"/>
<circle cx="143.75" cy="132.79" r="1.89" fill="#1b2383"/>
<circle cx="146.49" cy="131.06" r="1.89" fill="#1b2383"/>
<circle cx="149.23" cy="129.49" r="1.89" fill="#1b2383"/>
<circle cx="151.97" cy="128.06" r="1.89" fill="#1b2383"/>
<circle cx="157.46" cy="125.56" r="1.89" fill="#1b2383"/>
<circle cx="162.94" cy="123.49" r="1.89" fill="#1b2383"/>
<circle cx="168.42" cy="121.77" r="1.89" fill="#1b2383"/>
<circle cx="173.91" cy="120.33" r="1.89" fill="#1b2383"/>
<circle cx="179.39" cy="119.14" r="1.89" fill="#1b2383"/>
<circle cx="184.88" cy="118.15" r="1.89" fill="#1b2383"/>
<circle cx="190.36" cy="117.33" r="1.89" fill="#1b2383"/>
<circle cx="195.84" cy="116.65" r="1.89" fill="#1b2383"/>
<circle cx="201.33" cy="116.08" r="1.89" fill="#1b2383"/>
<circle cx="206.81" cy="115.61" r="1.89" fill="#1b2383"/>
<circle cx="212.3" cy="115.21" r="1.89" fill="#1b2383"/>
<circle cx="217.78" cy="114.89" r="1.89" fill="#1b2383"/>
<circle cx="223.26" cy="114.62" r="1.89" fill="#1b2383"/>
<circle cx="228.75" cy="114.39" r="1.89" fill="#1b2383"/>
<circle cx="234.23" cy="114.2" r="1.89" fill="#1b2383"/>
<circle cx="239.72" cy="114.05" r="1.89" fill="#1b2383"/>
<rect x="106.21" y="176.31" width="3.77" height="3.77" fill="#0a9a4e"/>
<rect x="108.96" y="172.78" width="3.77" height="3.77" fill="#0a9a4e"/>
<rect x="111.7" y="169.44" width="3.77" height="3.77" fill="#0a9a4e"/>
<rect x="114.44" y="166.28" width="3.77" height="3.77" fill="#0a9a4e"/>
<rect x="117.18" y="163.29" width="3.77" height="3.77" fill="#0a9a4e"/>
<rect x="119.92" y="160.46" width="3.77" height="3.77" fill="#0a9a4e"/>
<rect x="122.67" y="157.79" width="3.77" height="3.77" fill="#0a9a4e"/>
<rect x="125.41" y="155.26" width="3.77" height="3.77" fill="#0a9a4e"/>
<rect x="128.15" y="152.87" width="3.77" height="3.77" fill="#0a9a4e"/>
<rect x="130.89" y="150.62" width="3.77" height="3.77" fill="#0a9a4e"/>
<rect x="133.63" y="148.48" width="3.77" height="3.77" fill="#0a9a4e"/>
<rect x="136.38" y="146.46" width="3.77" height="3.77" fill="#0a9a4e"/>
<rect x="139.12" y="144.55" width="3.77" height="3.77" fill="#0a9a4e"/>
<rect x="141.86" y="142.74" width="3.77" height="3.77" fill="#0a9a4e"/>
<rect x="144.6" y="141.04" width="3.77" height="3.77" fill="#0a9a4e"/>
<rect x="147.34" y="139.42" width="3.77" height="3.77" fill="#0a9a4e"/>
<rect x="150.09" y="137.9" width="3.77" height="3.77" fill="#0a9a4e"/>
<rect x="155.57" y="135.09" width="3.77" height="3.77" fill="#0a9a4e"/>
<rect x="161.06" y="132.58" width="3.77" height="3.77" fill="#0a9a4e"/>
<rect x="166.54" y="130.34" width="3.77" height="3.77" fill="#0a9a4e"/>
<rect x="172.02" y="128.33" width="3.77" height="3.77" fill="#0a9a4e"/>
<rect x="177.51" y="126.53" width="3.77" height="3.77" fill="#0a9a4e"/>
<rect x="182.99" y="124.93" width="3.77" height="3.77" fill="#0a9a4e"/>
<rect x="188.48" y="123.5" width="3.77" height="3.77" fill="#0a9a4e"/>
<rect x="193.96" y="122.22" width="3.77" height="3.77" fill="#0a9a4e"/>
<rect x="199.44" y="121.07" width="3.77" height="3.77" fill="#0a9a4e"/>
<rect x="204.93" y="120.04" width="3.77" height="3.77" fill="#0a9a4e"/>
<rect x="210.41" y="119.13" width="3.77" height="3.77" fill="#0a9a4e"/>
<rect x="215.9" y="118.31" width="3.77" height="3.77" fill="#0a9a4e"/>
<rect x="221.38" y="117.58" width="3.77" height="3.77" fill="#0a9a4e"/>
<rect x="226.86" y="116.92" width="3.77" height="3.77" fill="#0a9a4e"/>
<rect x="232.35" y="116.34" width="3.77" height="3.77" fill="#0a9a4e"/>
<rect x="237.83" y="115.81" width="3.77" height="3.77" fill="#0a9a4e"/>
<circle cx="108.1" cy="178.2" r="1.56" fill="#c2559d"/>
<circle cx="110.29" cy="176.41" r="1.56" fill="#c2559d"/>
<circle cx="112.49" cy="174.66" r="1.56" fill="#c2559d"/>
<circle cx="114.68" cy="172.97" r="1.56" fill="#c2559d"/>
<circle cx="116.87" cy="171.32" r="1.56" fill="#c2559d"/>
<circle cx="119.07" cy="169.72" r="1.56" fill="#c2559d"/>
<circle cx="121.26" cy="168.16" r="1.56" fill="#c2559d"/>
<circle cx="123.46" cy="166.65" r="1.56" fill="#c2559d"/>
<circle cx="125.65" cy="165.17" r="1.56" fill="#c2559d"/>
<circle cx="127.84" cy="163.74" r="1.56" fill="#c2559d"/>
<circle cx="130.04" cy="162.35" r="1.56" fill="#c2559d"/>
<circle cx="132.23" cy="160.99" r="1.56" fill="#c2559d"/>
<circle cx="134.42" cy="159.67" r="1.56" fill="#c2559d"/>
<circle cx="136.62" cy="158.39" r="1.56" fill="#c2559d"/>
<circle cx="138.81" cy="157.15" r="1.56" fill="#c2559d"/>
<circle cx="141" cy="155.94" r="1.56" fill="#c2559d"/>
<circle cx="143.2" cy="154.76" r="1.56" fill="#c2559d"/>
<circle cx="145.39" cy="153.61" r="1.56" fill="#c2559d"/>
<circle cx="147.58" cy="152.5" r="1.56" fill="#c2559d"/>
<circle cx="149.78" cy="151.42" r="1.56" fill="#c2559d"/>
<circle cx="151.97" cy="150.36" r="1.56" fill="#c2559d"/>
<circle cx="157.46" cy="147.86" r="1.82" fill="#c2559d"/>
<circle cx="162.94" cy="145.52" r="1.82" fill="#c2559d"/>
<circle cx="168.42" cy="143.34" r="1.82" fill="#c2559d"/>
<circle cx="173.91" cy="141.31" r="1.82" fill="#c2559d"/>
<circle cx="179.39" cy="139.41" r="1.82" fill="#c2559d"/>
<circle cx="184.88" cy="137.65" r="1.82" fill="#c2559d"/>
<circle cx="190.36" cy="136" r="1.82" fill="#c2559d"/>
<circle cx="195.84" cy="134.46" r="1.82" fill="#c2559d"/>
<circle cx="201.33" cy="133.03" r="1.82" fill="#c2559d"/>
<circle cx="206.81" cy="131.7" r="1.82" fill="#c2559d"/>
<circle cx="212.3" cy="130.45" r="1.82" fill="#c2559d"/>
<circle cx="217.78" cy="129.29" r="1.82" fill="#c2559d"/>
<circle cx="223.26" cy="128.21" r="1.82" fill="#c2559d"/>
<circle cx="228.75" cy="127.2" r="1.82" fill="#c2559d"/>
<circle cx="234.23" cy="126.26" r="1.82" fill="#c2559d"/>
<circle cx="239.72" cy="125.38" r="1.82" fill="#c2559d"/>
<rect x="226.8" y="144.4" width="12.7" height="30.9" fill="#fff" stroke="#1c1c1c" stroke-width="0.9"/>
<circle cx="231" cy="149.4" r="1.95" fill="#1b2383"/>
<rect x="229.25" y="157.55" width="3.51" height="3.51" fill="#0a9a4e"/>
<circle cx="231" cy="170.3" r="1.95" fill="#c2559d"/>
<text x="234.3" y="151.1" font-size="4.7" fill="#555" font-family="'Liberation Sans', sans-serif">A</text>
<text x="234.3" y="161" font-size="4.7" fill="#555" font-family="'Liberation Sans', sans-serif">B</text>
<text x="234.3" y="172" font-size="4.7" fill="#555" font-family="'Liberation Sans', sans-serif">C</text>
</g>
<rect x="631.9" y="253.1" width="150.7" height="119.1" fill="#fff" stroke="#1c1c1c" stroke-width="1.4" rx="1"/>
<text x="707.5" y="261.4" font-size="5.3" fill="#222" font-family="'Liberation Sans', sans-serif" font-weight="bold" text-anchor="middle" textLength="24.5" lengthAdjust="spacingAndGlyphs">IVIVC plot</text>
<line x1="659" y1="353.6" x2="771.1" y2="353.6" stroke="#1e1e1e" stroke-width="1.1"/>
<line x1="659" y1="345.69" x2="771.1" y2="345.69" stroke="#1e1e1e" stroke-width="1.1"/>
<line x1="659" y1="337.78" x2="771.1" y2="337.78" stroke="#1e1e1e" stroke-width="1.1"/>
<line x1="659" y1="329.87" x2="771.1" y2="329.87" stroke="#1e1e1e" stroke-width="1.1"/>
<line x1="659" y1="321.96" x2="771.1" y2="321.96" stroke="#1e1e1e" stroke-width="1.1"/>
<line x1="659" y1="314.05" x2="771.1" y2="314.05" stroke="#1e1e1e" stroke-width="1.1"/>
<line x1="659" y1="306.15" x2="771.1" y2="306.15" stroke="#1e1e1e" stroke-width="1.1"/>
<line x1="659" y1="298.24" x2="771.1" y2="298.24" stroke="#1e1e1e" stroke-width="1.1"/>
<line x1="659" y1="290.33" x2="771.1" y2="290.33" stroke="#1e1e1e" stroke-width="1.1"/>
<line x1="659" y1="282.42" x2="771.1" y2="282.42" stroke="#1e1e1e" stroke-width="1.1"/>
<line x1="659" y1="274.51" x2="771.1" y2="274.51" stroke="#1e1e1e" stroke-width="1.1"/>
<line x1="659" y1="266.6" x2="771.1" y2="266.6" stroke="#8a8a8a" stroke-width="1.1"/>
<line x1="771.1" y1="266.6" x2="771.1" y2="353.6" stroke="#9a9a9a" stroke-width="0.9"/>
<line x1="659" y1="266.6" x2="659" y2="354.2" stroke="#000" stroke-width="1.3"/>
<line x1="658.4" y1="353.6" x2="771.1" y2="353.6" stroke="#000" stroke-width="1.3"/>
<line x1="657" y1="353.6" x2="659" y2="353.6" stroke="#000" stroke-width="1.1"/>
<text x="655.6" y="355.5" font-size="5" fill="#3a3a3a" font-family="'Liberation Sans', sans-serif" text-anchor="end">0.0</text>
<line x1="657" y1="345.69" x2="659" y2="345.69" stroke="#000" stroke-width="1.1"/>
<text x="655.6" y="347.59" font-size="5" fill="#3a3a3a" font-family="'Liberation Sans', sans-serif" text-anchor="end">10.0</text>
<line x1="657" y1="337.78" x2="659" y2="337.78" stroke="#000" stroke-width="1.1"/>
<text x="655.6" y="339.68" font-size="5" fill="#3a3a3a" font-family="'Liberation Sans', sans-serif" text-anchor="end">20.0</text>
<line x1="657" y1="329.87" x2="659" y2="329.87" stroke="#000" stroke-width="1.1"/>
<text x="655.6" y="331.77" font-size="5" fill="#3a3a3a" font-family="'Liberation Sans', sans-serif" text-anchor="end">30.0</text>
<line x1="657" y1="321.96" x2="659" y2="321.96" stroke="#000" stroke-width="1.1"/>
<text x="655.6" y="323.86" font-size="5" fill="#3a3a3a" font-family="'Liberation Sans', sans-serif" text-anchor="end">40.0</text>
<line x1="657" y1="314.05" x2="659" y2="314.05" stroke="#000" stroke-width="1.1"/>
<text x="655.6" y="315.95" font-size="5" fill="#3a3a3a" font-family="'Liberation Sans', sans-serif" text-anchor="end">50.0</text>
<line x1="657" y1="306.15" x2="659" y2="306.15" stroke="#000" stroke-width="1.1"/>
<text x="655.6" y="308.05" font-size="5" fill="#3a3a3a" font-family="'Liberation Sans', sans-serif" text-anchor="end">60.0</text>
<line x1="657" y1="298.24" x2="659" y2="298.24" stroke="#000" stroke-width="1.1"/>
<text x="655.6" y="300.14" font-size="5" fill="#3a3a3a" font-family="'Liberation Sans', sans-serif" text-anchor="end">70.0</text>
<line x1="657" y1="290.33" x2="659" y2="290.33" stroke="#000" stroke-width="1.1"/>
<text x="655.6" y="292.23" font-size="5" fill="#3a3a3a" font-family="'Liberation Sans', sans-serif" text-anchor="end">80.0</text>
<line x1="657" y1="282.42" x2="659" y2="282.42" stroke="#000" stroke-width="1.1"/>
<text x="655.6" y="284.32" font-size="5" fill="#3a3a3a" font-family="'Liberation Sans', sans-serif" text-anchor="end">90.0</text>
<line x1="657" y1="274.51" x2="659" y2="274.51" stroke="#000" stroke-width="1.1"/>
<text x="655.6" y="276.41" font-size="5" fill="#3a3a3a" font-family="'Liberation Sans', sans-serif" text-anchor="end">100.0</text>
<line x1="657" y1="266.6" x2="659" y2="266.6" stroke="#000" stroke-width="1.1"/>
<text x="655.6" y="268.5" font-size="5" fill="#3a3a3a" font-family="'Liberation Sans', sans-serif" text-anchor="end">110.0</text>
<line x1="659" y1="353.6" x2="659" y2="355.4" stroke="#000" stroke-width="1"/>
<text x="659" y="362.9" font-size="5" fill="#3a3a3a" font-family="'Liberation Sans', sans-serif" text-anchor="middle">0.0</text>
<line x1="681.42" y1="353.6" x2="681.42" y2="355.4" stroke="#000" stroke-width="1"/>
<text x="681.42" y="362.9" font-size="5" fill="#3a3a3a" font-family="'Liberation Sans', sans-serif" text-anchor="middle">10.0</text>
<line x1="703.84" y1="353.6" x2="703.84" y2="355.4" stroke="#000" stroke-width="1"/>
<text x="703.84" y="362.9" font-size="5" fill="#3a3a3a" font-family="'Liberation Sans', sans-serif" text-anchor="middle">20.0</text>
<line x1="726.26" y1="353.6" x2="726.26" y2="355.4" stroke="#000" stroke-width="1"/>
<text x="726.26" y="362.9" font-size="5" fill="#3a3a3a" font-family="'Liberation Sans', sans-serif" text-anchor="middle">30.0</text>
<line x1="748.68" y1="353.6" x2="748.68" y2="355.4" stroke="#000" stroke-width="1"/>
<text x="748.68" y="362.9" font-size="5" fill="#3a3a3a" font-family="'Liberation Sans', sans-serif" text-anchor="middle">40.0</text>
<line x1="771.1" y1="353.6" x2="771.1" y2="355.4" stroke="#000" stroke-width="1"/>
<text x="771.1" y="362.9" font-size="5" fill="#3a3a3a" font-family="'Liberation Sans', sans-serif" text-anchor="middle">50.0</text>
<text x="714.5" y="369.4" font-size="5.4" fill="#1a1a1a" font-family="'Liberation Sans', sans-serif" font-weight="bold" text-anchor="middle">In vitro</text>
<text x="639.3" y="309.4" font-size="5.4" fill="#1a1a1a" font-family="'Liberation Sans', sans-serif" font-weight="bold" text-anchor="middle" transform="rotate(-90 639.3 309.4)">In vivo</text>
<circle cx="667.52" cy="342.53" r="1.6" fill="#12a060"/>
<circle cx="674.92" cy="332.64" r="1.6" fill="#c65aa8"/>
<circle cx="676.94" cy="336.36" r="1.6" fill="#12a060"/>
<circle cx="684.78" cy="327.66" r="1.6" fill="#12a060"/>
<circle cx="689.72" cy="322.75" r="1.6" fill="#c65aa8"/>
<circle cx="692.18" cy="319.75" r="1.6" fill="#12a060"/>
<circle cx="699.58" cy="311.13" r="1.6" fill="#1e2a8c"/>
<circle cx="700.03" cy="314.05" r="1.6" fill="#12a060"/>
<circle cx="703.84" cy="309.7" r="1.6" fill="#c65aa8"/>
<circle cx="706.98" cy="308.2" r="1.6" fill="#12a060"/>
<circle cx="714.38" cy="303.46" r="1.6" fill="#12a060"/>
<circle cx="716.84" cy="300.06" r="1.6" fill="#c65aa8"/>
<circle cx="720.65" cy="296.81" r="1.6" fill="#12a060"/>
<circle cx="726.71" cy="291.91" r="1.6" fill="#12a060"/>
<circle cx="728.73" cy="293.57" r="1.6" fill="#c65aa8"/>
<circle cx="732.76" cy="296.81" r="1.6" fill="#1e2a8c"/>
<circle cx="733.66" cy="287.4" r="1.6" fill="#12a060"/>
<circle cx="740.16" cy="288.67" r="1.6" fill="#c65aa8"/>
<circle cx="750.03" cy="284.47" r="1.6" fill="#c65aa8"/>
<circle cx="759.89" cy="280.68" r="1.6" fill="#c65aa8"/>
<circle cx="759.89" cy="284.47" r="1.6" fill="#1e2a8c"/>
<circle cx="768.86" cy="277.83" r="1.6" fill="#c65aa8"/>
<line x1="659" y1="341.34" x2="768.41" y2="274.19" stroke="#111" stroke-width="1"/>
<rect x="746.7" y="296.7" width="20" height="54.5" fill="#fff" stroke="#1c1c1c" stroke-width="1.1"/>
<circle cx="754.6" cy="306" r="1.75" fill="#1e2a8c"/>
<text x="758.8" y="308.1" font-size="5.8" fill="#333" font-family="'Liberation Sans', sans-serif">A</text>
<circle cx="754.6" cy="324" r="1.75" fill="#c65aa8"/>
<text x="758.8" y="326.1" font-size="5.8" fill="#333" font-family="'Liberation Sans', sans-serif">B</text>
<circle cx="754.6" cy="341.9" r="1.75" fill="#12a060"/>
<text x="758.8" y="344" font-size="5.8" fill="#333" font-family="'Liberation Sans', sans-serif">C</text>
<path d="M562.8 370.1L313 370.1L313 365.9L298.7 374.75L313 384.1L313 379.4L562.8 379.4Z" fill="#0b70bd" stroke="#1a2b45" stroke-width="1" stroke-linejoin="miter"/>
<text x="336.4" y="397.2" font-size="14.4" fill="#0a72bd" font-family="'Liberation Sans', sans-serif" font-weight="bold" font-style="italic" textLength="190.6" lengthAdjust="spacingAndGlyphs">Verification via convolution</text>
</svg>
</body></html>
